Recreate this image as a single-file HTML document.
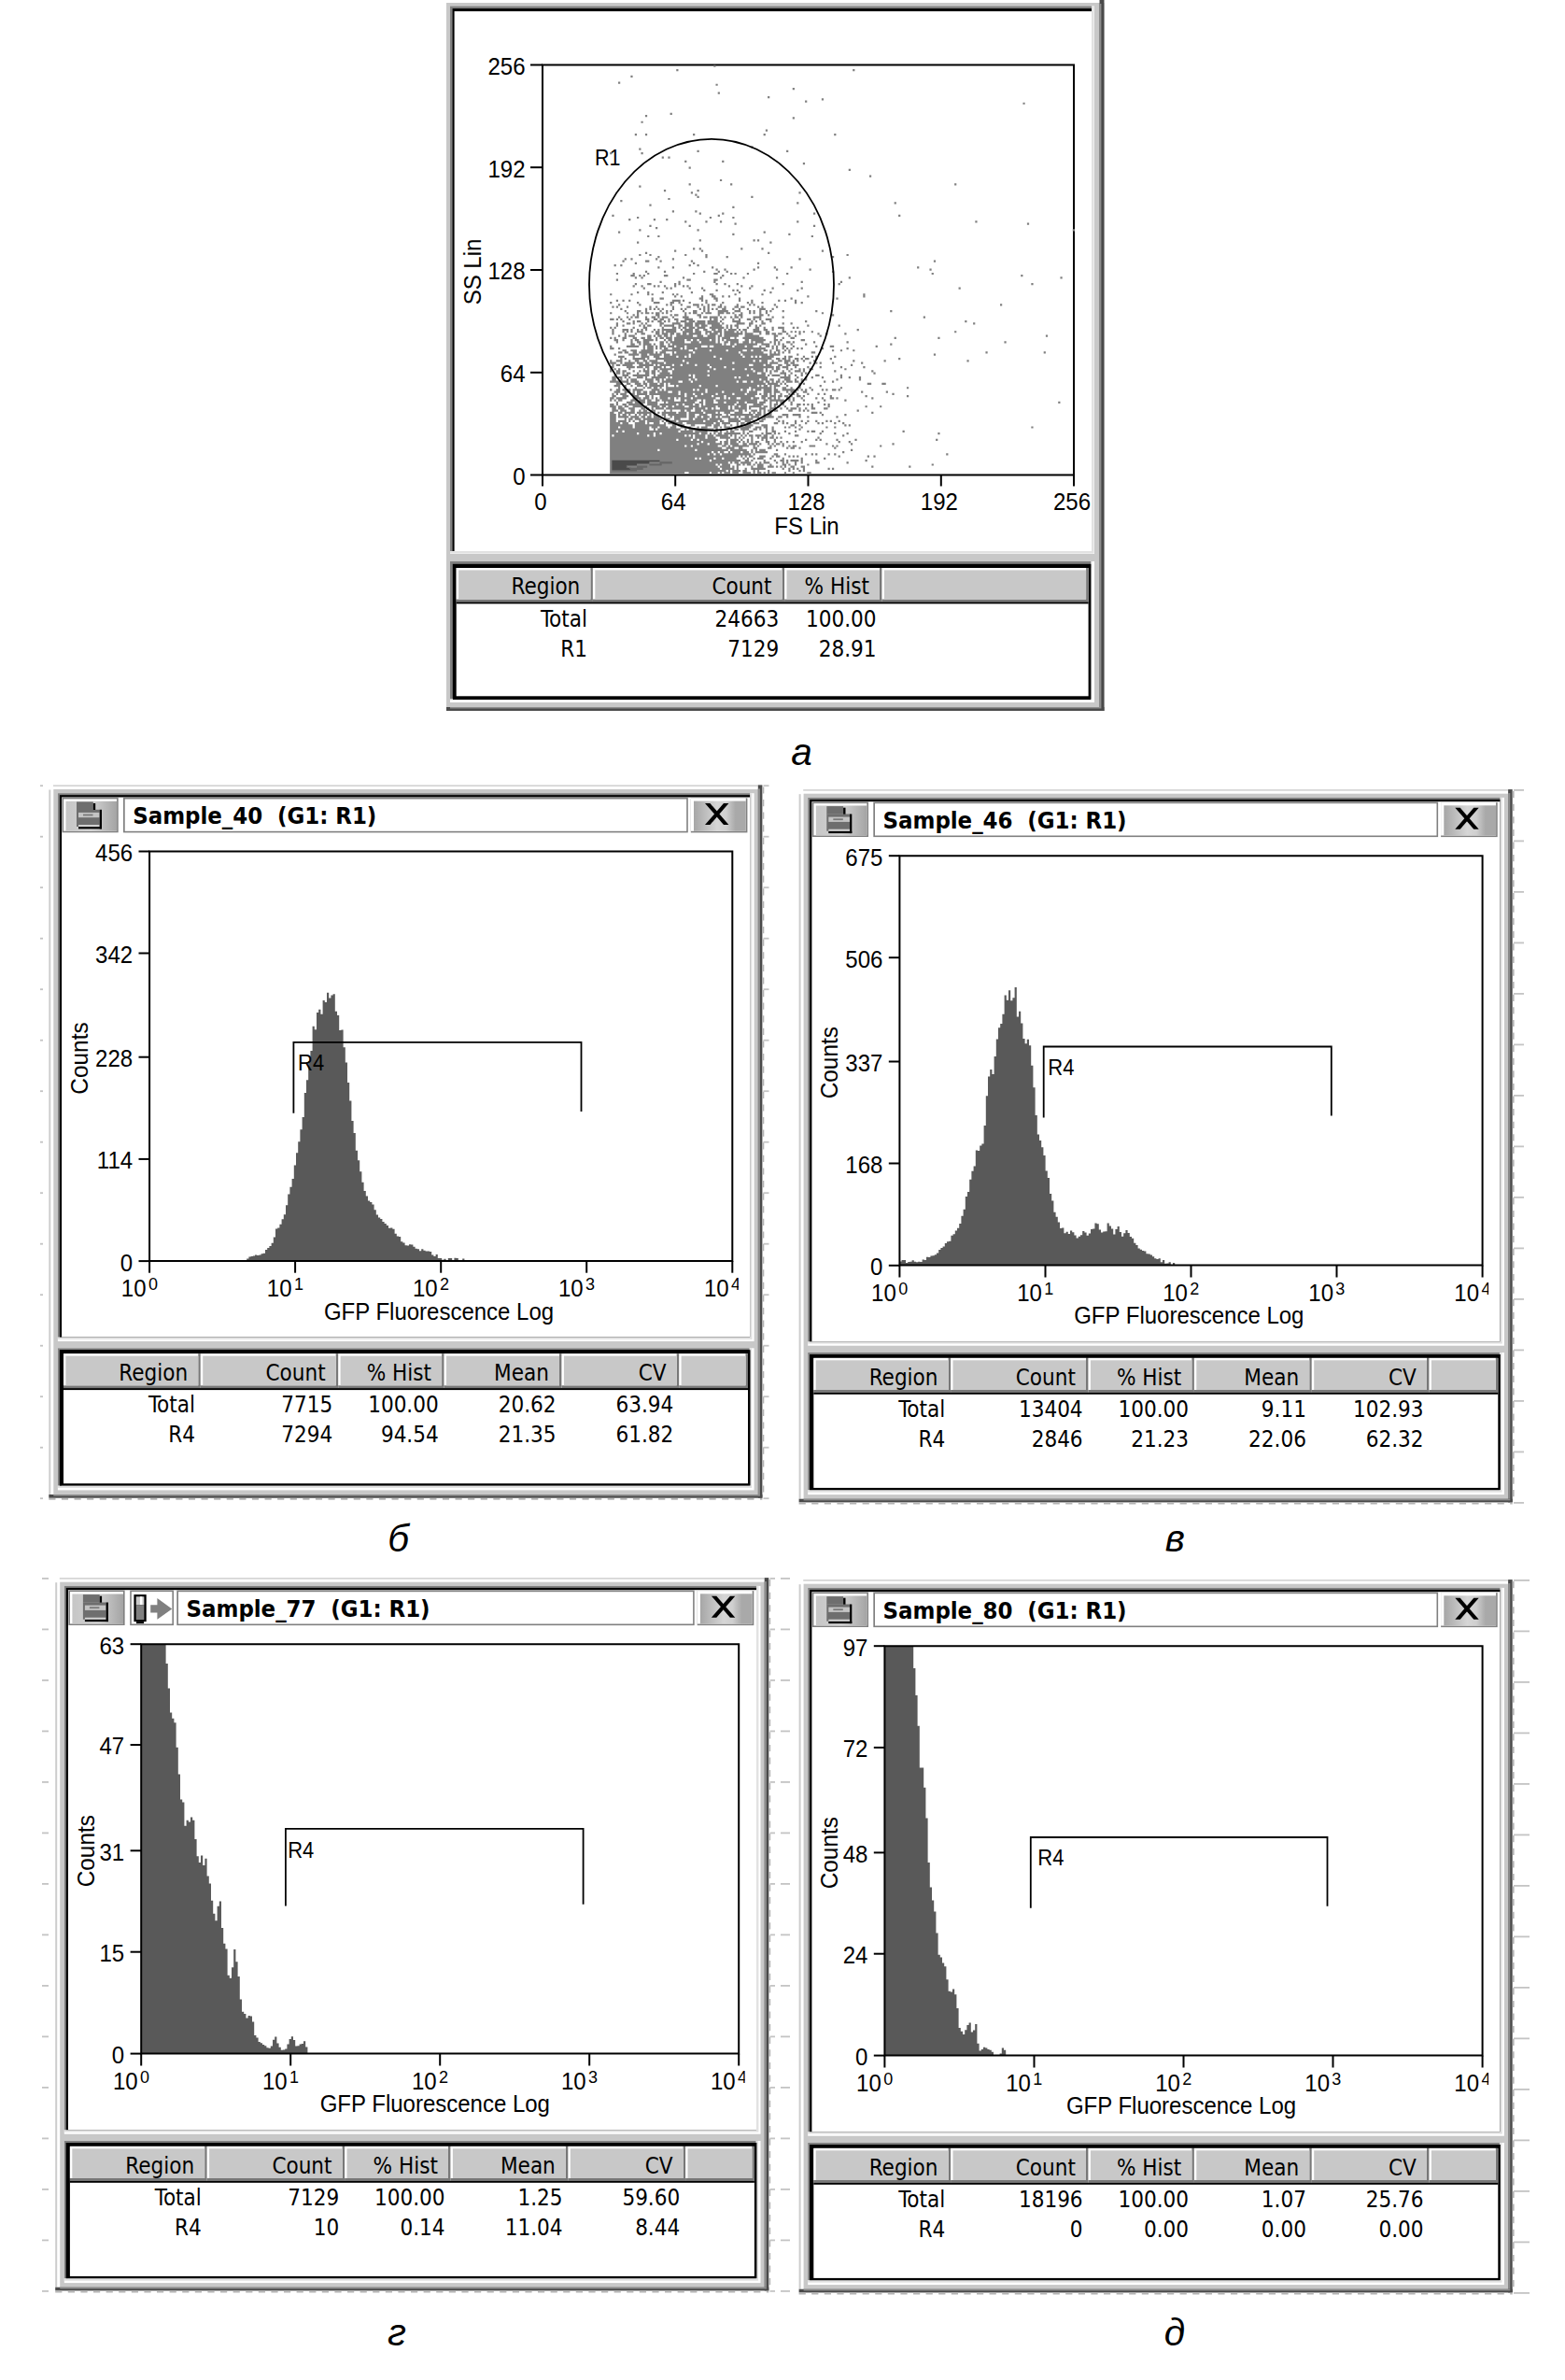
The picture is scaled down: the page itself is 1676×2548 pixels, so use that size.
<!DOCTYPE html>
<html lang="en"><head><meta charset="utf-8"><title>Flow cytometry</title>
<style>
html,body{margin:0;padding:0;background:#fff}
svg{display:block}
.a{font-family:"Liberation Sans",sans-serif;fill:#000}
.t{font-family:"DejaVu Sans Condensed","Liberation Sans",sans-serif;fill:#000}
.tb{font-family:"DejaVu Sans Condensed","Liberation Sans",sans-serif;font-weight:bold;fill:#000}
.ci{font-family:"Liberation Sans",sans-serif;font-style:italic;fill:#000}
</style></head><body>
<svg width="1676" height="2548" viewBox="0 0 1676 2548">
<rect width="1676" height="2548" fill="#fff"/>
<defs>
<linearGradient id="gb" x1="0" x2="1" y1="0" y2="0"><stop offset="0" stop-color="#a6a6a6"/><stop offset=".45" stop-color="#d6d6d6"/><stop offset=".62" stop-color="#cfcfcf"/><stop offset=".8" stop-color="#a9a9a9"/><stop offset="1" stop-color="#a9a9a9"/></linearGradient>
<linearGradient id="gi" x1="0" x2="1" y1="0" y2="0"><stop offset="0" stop-color="#c6c6c6"/><stop offset=".5" stop-color="#d2d2d2"/><stop offset="1" stop-color="#a4a4a4"/></linearGradient>
</defs>
<rect x="478.0" y="3.0" width="704.5" height="758.0" fill="#c8c8c8"/>
<rect x="1177.5" y="0.0" width="5.0" height="761.0" fill="#4a4a4a"/>
<rect x="478.0" y="757.0" width="704.5" height="4.0" fill="#4a4a4a"/>
<rect x="1177.5" y="4.0" width="1.9" height="753.0" fill="#8c8c8c"/>
<rect x="482.0" y="757.0" width="697.4" height="1.5" fill="#8c8c8c"/>
<rect x="482.0" y="6.5" width="690.0" height="586.5" fill="#fff"/>
<rect x="482.0" y="6.5" width="689.6" height="586.1" fill="#e2e2e2"/>
<rect x="482.0" y="6.5" width="687.0" height="583.5" fill="#808080"/>
<rect x="484.6" y="9.1" width="684.4" height="580.9" fill="#000"/>
<rect x="486.6" y="12.1" width="682.4" height="577.9" fill="#fff"/>
<rect x="482.0" y="601.0" width="690.0" height="151.0" fill="#fff"/>
<rect x="482.0" y="601.0" width="687.4" height="148.4" fill="#e2e2e2"/>
<rect x="482.0" y="601.0" width="686.2" height="147.2" fill="#808080"/>
<rect x="484.8" y="603.8" width="683.4" height="144.4" fill="#000"/>
<rect x="488.5" y="607.8" width="679.7" height="140.4" fill="#fff"/>
<rect x="485.0" y="604.0" width="683.2" height="145.0" fill="#000"/>
<rect x="488.7" y="608.0" width="676.9" height="137.3" fill="#fff"/>
<rect x="488.7" y="608.0" width="146.2" height="36.4" fill="#787878"/>
<rect x="488.7" y="608.0" width="143.7" height="33.6" fill="#fff"/>
<rect x="491.1" y="610.4" width="141.3" height="31.2" fill="#c8c8c8"/>
<text x="621.3" y="636.2" font-size="24" text-anchor="end" class="t">Region</text>
<rect x="634.9" y="608.0" width="205.2" height="36.4" fill="#787878"/>
<rect x="634.9" y="608.0" width="202.7" height="33.6" fill="#fff"/>
<rect x="637.3" y="610.4" width="200.3" height="31.2" fill="#c8c8c8"/>
<text x="826.5" y="636.2" font-size="24" text-anchor="end" class="t">Count</text>
<rect x="840.1" y="608.0" width="104.4" height="36.4" fill="#787878"/>
<rect x="840.1" y="608.0" width="101.9" height="33.6" fill="#fff"/>
<rect x="842.5" y="610.4" width="99.5" height="31.2" fill="#c8c8c8"/>
<text x="930.9" y="636.2" font-size="24" text-anchor="end" class="t">% Hist</text>
<rect x="944.5" y="608.0" width="221.1" height="36.4" fill="#787878"/>
<rect x="944.5" y="608.0" width="218.6" height="33.6" fill="#fff"/>
<rect x="946.9" y="610.4" width="216.2" height="31.2" fill="#c8c8c8"/>
<rect x="488.7" y="644.4" width="676.9" height="2.0" fill="#000"/>
<text x="629.0" y="671.0" font-size="24" text-anchor="end" class="t">Total</text>
<text x="834.2" y="671.0" font-size="24" text-anchor="end" class="t">24663</text>
<text x="938.6" y="671.0" font-size="24" text-anchor="end" class="t">100.00</text>
<text x="629.0" y="703.0" font-size="24" text-anchor="end" class="t">R1</text>
<text x="834.2" y="703.0" font-size="24" text-anchor="end" class="t">7129</text>
<text x="938.6" y="703.0" font-size="24" text-anchor="end" class="t">28.91</text>
<path d="M581 508.5V69.5H1150V508.5Z" fill="none" stroke="#000" stroke-width="2"/>
<line x1="568.0" y1="508.5" x2="581.0" y2="508.5" stroke="#000" stroke-width="2"/>
<text transform="translate(562.5,518.9) scale(1,1.07)" font-size="24" text-anchor="end" class="a">0</text>
<line x1="581.0" y1="508.5" x2="581.0" y2="520.5" stroke="#000" stroke-width="2"/>
<text transform="translate(579.0,545.6) scale(1,1.07)" font-size="24" text-anchor="middle" class="a">0</text>
<line x1="568.0" y1="398.8" x2="581.0" y2="398.8" stroke="#000" stroke-width="2"/>
<text transform="translate(562.5,409.1) scale(1,1.07)" font-size="24" text-anchor="end" class="a">64</text>
<line x1="723.2" y1="508.5" x2="723.2" y2="520.5" stroke="#000" stroke-width="2"/>
<text transform="translate(721.2,545.6) scale(1,1.07)" font-size="24" text-anchor="middle" class="a">64</text>
<line x1="568.0" y1="289.0" x2="581.0" y2="289.0" stroke="#000" stroke-width="2"/>
<text transform="translate(562.5,299.4) scale(1,1.07)" font-size="24" text-anchor="end" class="a">128</text>
<line x1="865.5" y1="508.5" x2="865.5" y2="520.5" stroke="#000" stroke-width="2"/>
<text transform="translate(863.5,545.6) scale(1,1.07)" font-size="24" text-anchor="middle" class="a">128</text>
<line x1="568.0" y1="179.2" x2="581.0" y2="179.2" stroke="#000" stroke-width="2"/>
<text transform="translate(562.5,189.7) scale(1,1.07)" font-size="24" text-anchor="end" class="a">192</text>
<line x1="1007.8" y1="508.5" x2="1007.8" y2="520.5" stroke="#000" stroke-width="2"/>
<text transform="translate(1005.8,545.6) scale(1,1.07)" font-size="24" text-anchor="middle" class="a">192</text>
<line x1="568.0" y1="69.5" x2="581.0" y2="69.5" stroke="#000" stroke-width="2"/>
<text transform="translate(562.5,79.9) scale(1,1.07)" font-size="24" text-anchor="end" class="a">256</text>
<line x1="1150.0" y1="508.5" x2="1150.0" y2="520.5" stroke="#000" stroke-width="2"/>
<text transform="translate(1148.0,545.6) scale(1,1.07)" font-size="24" text-anchor="middle" class="a">256</text>
<text transform="translate(864.0,571.5) scale(1,1.07)" font-size="24" text-anchor="middle" class="a">FS Lin</text>
<text transform="translate(514.5,291) rotate(-90) scale(1,1.07)" font-size="24" text-anchor="middle" class="a">SS Lin</text>
<text transform="translate(637.0,176.8) scale(1,1.07)" font-size="21.5" text-anchor="start" class="a">R1</text>
<g transform="translate(582,507.5) scale(2.2227,-2.2227)"><path fill="#808080" d="M32 0h36v1h-36zM70 0h10v1h-10zM81 0h3v1h-3zM85 0h1v1h-1zM87 0h3v1h-3zM91 0h3v1h-3zM96 0h4v1h-4zM101 0h1v1h-1zM103 0h2v1h-2zM106 0h1v1h-1zM108 0h1v1h-1zM110 0h2v1h-2zM116 0h1v1h-1zM120 0h1v1h-1zM127 0h2v1h-2zM32 1h56v1h-56zM89 1h1v1h-1zM91 1h4v1h-4zM96 1h2v1h-2zM101 1h1v1h-1zM103 1h1v1h-1zM108 1h1v1h-1zM118 1h1v1h-1zM123 1h1v1h-1zM125 1h1v1h-1zM32 2h53v1h-53zM86 2h6v1h-6zM93 2h1v1h-1zM97 2h1v1h-1zM100 2h7v1h-7zM115 2h1v1h-1zM118 2h1v1h-1zM120 2h1v1h-1zM122 2h1v1h-1zM125 2h1v1h-1zM137 2h1v1h-1zM139 2h1v1h-1zM32 3h52v1h-52zM85 3h5v1h-5zM91 3h1v1h-1zM93 3h1v1h-1zM100 3h1v1h-1zM103 3h3v1h-3zM108 3h3v1h-3zM112 3h1v1h-1zM114 3h1v1h-1zM116 3h1v1h-1zM119 3h2v1h-2zM124 3h2v1h-2zM158 3h1v1h-1zM176 3h1v1h-1zM32 4h51v1h-51zM84 4h1v1h-1zM86 4h4v1h-4zM93 4h2v1h-2zM96 4h1v1h-1zM98 4h2v1h-2zM101 4h1v1h-1zM103 4h3v1h-3zM109 4h1v1h-1zM115 4h2v1h-2zM118 4h1v1h-1zM121 4h1v1h-1zM127 4h1v1h-1zM187 4h1v1h-1zM32 5h57v1h-57zM90 5h1v1h-1zM92 5h2v1h-2zM95 5h5v1h-5zM102 5h1v1h-1zM104 5h1v1h-1zM106 5h3v1h-3zM112 5h1v1h-1zM115 5h1v1h-1zM117 5h1v1h-1zM121 5h1v1h-1zM124 5h1v1h-1zM131 5h2v1h-2zM146 5h1v1h-1zM32 6h48v1h-48zM81 6h14v1h-14zM97 6h2v1h-2zM100 6h1v1h-1zM106 6h1v1h-1zM111 6h1v1h-1zM114 6h2v1h-2zM117 6h1v1h-1zM119 6h4v1h-4zM124 6h1v1h-1zM131 6h1v1h-1zM155 6h1v1h-1zM32 7h41v1h-41zM74 7h1v1h-1zM76 7h6v1h-6zM83 7h3v1h-3zM87 7h6v1h-6zM96 7h1v1h-1zM98 7h1v1h-1zM101 7h1v1h-1zM103 7h3v1h-3zM109 7h1v1h-1zM115 7h1v1h-1zM124 7h1v1h-1zM135 7h1v1h-1zM32 8h62v1h-62zM95 8h1v1h-1zM97 8h1v1h-1zM99 8h2v1h-2zM104 8h3v1h-3zM110 8h1v1h-1zM112 8h2v1h-2zM118 8h1v1h-1zM120 8h1v1h-1zM122 8h1v1h-1zM142 8h1v1h-1zM156 8h1v1h-1zM159 8h1v1h-1zM32 9h47v1h-47zM80 9h2v1h-2zM83 9h2v1h-2zM86 9h14v1h-14zM101 9h1v1h-1zM111 9h2v1h-2zM116 9h1v1h-1zM126 9h1v1h-1zM129 9h1v1h-1zM131 9h1v1h-1zM137 9h1v1h-1zM140 9h1v1h-1zM194 9h1v1h-1zM32 10h49v1h-49zM82 10h2v1h-2zM85 10h2v1h-2zM89 10h1v1h-1zM91 10h4v1h-4zM96 10h3v1h-3zM100 10h1v1h-1zM102 10h6v1h-6zM144 10h1v1h-1zM32 11h23v1h-23zM56 11h17v1h-17zM74 11h15v1h-15zM90 11h8v1h-8zM100 11h1v1h-1zM102 11h1v1h-1zM104 11h3v1h-3zM112 11h1v1h-1zM148 11h1v1h-1zM32 12h54v1h-54zM88 12h4v1h-4zM94 12h2v1h-2zM101 12h2v1h-2zM108 12h2v1h-2zM117 12h1v1h-1zM119 12h2v1h-2zM123 12h1v1h-1zM140 12h1v1h-1zM32 13h36v1h-36zM69 13h2v1h-2zM72 13h12v1h-12zM86 13h2v1h-2zM89 13h1v1h-1zM91 13h8v1h-8zM101 13h1v1h-1zM103 13h1v1h-1zM109 13h1v1h-1zM111 13h1v1h-1zM115 13h1v1h-1zM118 13h1v1h-1zM120 13h2v1h-2zM128 13h3v1h-3zM139 13h1v1h-1zM141 13h1v1h-1zM162 13h1v1h-1zM32 14h42v1h-42zM75 14h4v1h-4zM80 14h6v1h-6zM87 14h2v1h-2zM90 14h4v1h-4zM96 14h2v1h-2zM99 14h4v1h-4zM104 14h1v1h-1zM108 14h1v1h-1zM110 14h1v1h-1zM112 14h2v1h-2zM115 14h1v1h-1zM136 14h1v1h-1zM148 14h1v1h-1zM168 14h1v1h-1zM32 15h44v1h-44zM77 15h6v1h-6zM85 15h1v1h-1zM87 15h2v1h-2zM90 15h3v1h-3zM94 15h1v1h-1zM96 15h1v1h-1zM98 15h1v1h-1zM100 15h1v1h-1zM102 15h2v1h-2zM107 15h2v1h-2zM111 15h1v1h-1zM114 15h1v1h-1zM117 15h1v1h-1zM120 15h1v1h-1zM124 15h1v1h-1zM142 15h1v1h-1zM147 15h1v1h-1zM32 16h32v1h-32zM65 16h6v1h-6zM72 16h2v1h-2zM75 16h9v1h-9zM88 16h1v1h-1zM90 16h4v1h-4zM95 16h1v1h-1zM98 16h1v1h-1zM100 16h1v1h-1zM105 16h1v1h-1zM107 16h1v1h-1zM111 16h1v1h-1zM126 16h1v1h-1zM131 16h1v1h-1zM133 16h1v1h-1zM141 16h1v1h-1zM150 16h1v1h-1zM189 16h1v1h-1zM32 17h40v1h-40zM73 17h5v1h-5zM79 17h4v1h-4zM85 17h5v1h-5zM92 17h1v1h-1zM94 17h1v1h-1zM96 17h1v1h-1zM100 17h1v1h-1zM103 17h1v1h-1zM105 17h3v1h-3zM109 17h2v1h-2zM112 17h1v1h-1zM114 17h1v1h-1zM132 17h1v1h-1zM32 18h1v1h-1zM34 18h16v1h-16zM51 18h2v1h-2zM54 18h14v1h-14zM69 18h1v1h-1zM71 18h1v1h-1zM73 18h5v1h-5zM79 18h3v1h-3zM83 18h6v1h-6zM90 18h1v1h-1zM92 18h1v1h-1zM95 18h1v1h-1zM97 18h1v1h-1zM99 18h2v1h-2zM102 18h3v1h-3zM106 18h2v1h-2zM110 18h1v1h-1zM121 18h2v1h-2zM144 18h1v1h-1zM32 19h13v1h-13zM46 19h7v1h-7zM54 19h2v1h-2zM57 19h18v1h-18zM76 19h3v1h-3zM80 19h1v1h-1zM82 19h1v1h-1zM84 19h2v1h-2zM87 19h8v1h-8zM96 19h1v1h-1zM98 19h1v1h-1zM105 19h1v1h-1zM107 19h3v1h-3zM111 19h1v1h-1zM113 19h1v1h-1zM118 19h1v1h-1zM133 19h1v1h-1zM140 19h1v1h-1zM146 19h1v1h-1zM190 19h1v1h-1zM32 20h3v1h-3zM36 20h2v1h-2zM39 20h26v1h-26zM66 20h6v1h-6zM73 20h6v1h-6zM82 20h2v1h-2zM85 20h1v1h-1zM88 20h1v1h-1zM90 20h2v1h-2zM96 20h1v1h-1zM99 20h2v1h-2zM107 20h1v1h-1zM110 20h2v1h-2zM116 20h1v1h-1zM121 20h1v1h-1zM127 20h1v1h-1zM129 20h2v1h-2zM134 20h1v1h-1zM173 20h1v1h-1zM32 21h19v1h-19zM53 21h1v1h-1zM55 21h11v1h-11zM68 21h1v1h-1zM70 21h12v1h-12zM83 21h1v1h-1zM90 21h1v1h-1zM92 21h2v1h-2zM95 21h4v1h-4zM101 21h2v1h-2zM104 21h1v1h-1zM107 21h1v1h-1zM110 21h1v1h-1zM123 21h1v1h-1zM32 22h4v1h-4zM37 22h6v1h-6zM44 22h7v1h-7zM52 22h3v1h-3zM56 22h4v1h-4zM61 22h3v1h-3zM66 22h5v1h-5zM74 22h1v1h-1zM76 22h3v1h-3zM82 22h2v1h-2zM85 22h1v1h-1zM87 22h3v1h-3zM92 22h1v1h-1zM94 22h6v1h-6zM102 22h3v1h-3zM106 22h2v1h-2zM110 22h1v1h-1zM116 22h1v1h-1zM118 22h1v1h-1zM121 22h1v1h-1zM124 22h1v1h-1zM136 22h1v1h-1zM140 22h1v1h-1zM235 22h1v1h-1zM32 23h11v1h-11zM44 23h15v1h-15zM62 23h2v1h-2zM65 23h3v1h-3zM71 23h2v1h-2zM78 23h3v1h-3zM82 23h3v1h-3zM87 23h1v1h-1zM90 23h1v1h-1zM93 23h1v1h-1zM95 23h1v1h-1zM97 23h4v1h-4zM105 23h3v1h-3zM119 23h2v1h-2zM123 23h1v1h-1zM145 23h1v1h-1zM147 23h1v1h-1zM32 24h5v1h-5zM38 24h3v1h-3zM44 24h5v1h-5zM50 24h1v1h-1zM53 24h3v1h-3zM58 24h1v1h-1zM60 24h7v1h-7zM69 24h13v1h-13zM83 24h2v1h-2zM86 24h4v1h-4zM93 24h1v1h-1zM95 24h2v1h-2zM98 24h2v1h-2zM101 24h3v1h-3zM111 24h2v1h-2zM115 24h1v1h-1zM117 24h1v1h-1zM121 24h1v1h-1zM126 24h1v1h-1zM132 24h1v1h-1zM134 24h1v1h-1zM140 24h1v1h-1zM144 24h1v1h-1zM32 25h3v1h-3zM36 25h4v1h-4zM41 25h1v1h-1zM43 25h1v1h-1zM46 25h3v1h-3zM50 25h6v1h-6zM57 25h1v1h-1zM59 25h1v1h-1zM61 25h3v1h-3zM65 25h12v1h-12zM78 25h6v1h-6zM85 25h2v1h-2zM89 25h6v1h-6zM97 25h3v1h-3zM101 25h1v1h-1zM104 25h2v1h-2zM113 25h1v1h-1zM115 25h1v1h-1zM121 25h1v1h-1zM124 25h1v1h-1zM127 25h1v1h-1zM131 25h1v1h-1zM136 25h1v1h-1zM138 25h1v1h-1zM142 25h1v1h-1zM32 26h3v1h-3zM39 26h1v1h-1zM41 26h2v1h-2zM44 26h3v1h-3zM48 26h9v1h-9zM58 26h3v1h-3zM63 26h3v1h-3zM70 26h2v1h-2zM73 26h6v1h-6zM80 26h6v1h-6zM89 26h5v1h-5zM95 26h6v1h-6zM103 26h1v1h-1zM105 26h2v1h-2zM112 26h1v1h-1zM32 27h3v1h-3zM36 27h5v1h-5zM42 27h4v1h-4zM47 27h2v1h-2zM50 27h2v1h-2zM53 27h3v1h-3zM58 27h1v1h-1zM61 27h1v1h-1zM63 27h6v1h-6zM70 27h3v1h-3zM74 27h2v1h-2zM77 27h3v1h-3zM81 27h2v1h-2zM84 27h1v1h-1zM86 27h4v1h-4zM92 27h1v1h-1zM94 27h1v1h-1zM97 27h2v1h-2zM100 27h4v1h-4zM106 27h5v1h-5zM113 27h2v1h-2zM117 27h1v1h-1zM123 27h1v1h-1zM127 27h1v1h-1zM141 27h1v1h-1zM32 28h3v1h-3zM36 28h1v1h-1zM38 28h2v1h-2zM41 28h1v1h-1zM44 28h1v1h-1zM46 28h1v1h-1zM48 28h2v1h-2zM51 28h1v1h-1zM53 28h2v1h-2zM57 28h2v1h-2zM60 28h9v1h-9zM70 28h3v1h-3zM75 28h4v1h-4zM81 28h5v1h-5zM88 28h1v1h-1zM90 28h11v1h-11zM102 28h3v1h-3zM106 28h1v1h-1zM108 28h2v1h-2zM115 28h3v1h-3zM120 28h4v1h-4zM134 28h1v1h-1zM145 28h1v1h-1zM32 29h2v1h-2zM36 29h2v1h-2zM39 29h5v1h-5zM45 29h7v1h-7zM53 29h1v1h-1zM55 29h1v1h-1zM57 29h7v1h-7zM65 29h4v1h-4zM70 29h7v1h-7zM78 29h5v1h-5zM84 29h1v1h-1zM87 29h3v1h-3zM92 29h4v1h-4zM99 29h1v1h-1zM101 29h1v1h-1zM103 29h2v1h-2zM106 29h1v1h-1zM109 29h1v1h-1zM129 29h3v1h-3zM133 29h1v1h-1zM158 29h1v1h-1zM33 30h3v1h-3zM37 30h3v1h-3zM42 30h2v1h-2zM46 30h1v1h-1zM48 30h2v1h-2zM52 30h2v1h-2zM58 30h1v1h-1zM61 30h1v1h-1zM66 30h2v1h-2zM69 30h2v1h-2zM73 30h3v1h-3zM77 30h15v1h-15zM94 30h2v1h-2zM97 30h1v1h-1zM100 30h3v1h-3zM104 30h1v1h-1zM106 30h1v1h-1zM108 30h2v1h-2zM111 30h2v1h-2zM118 30h2v1h-2zM123 30h1v1h-1zM125 30h1v1h-1zM127 30h1v1h-1zM151 30h1v1h-1zM33 31h2v1h-2zM36 31h3v1h-3zM41 31h3v1h-3zM47 31h2v1h-2zM50 31h1v1h-1zM52 31h1v1h-1zM54 31h4v1h-4zM59 31h13v1h-13zM73 31h5v1h-5zM79 31h2v1h-2zM82 31h1v1h-1zM85 31h4v1h-4zM90 31h1v1h-1zM92 31h6v1h-6zM99 31h1v1h-1zM104 31h3v1h-3zM109 31h3v1h-3zM114 31h1v1h-1zM117 31h1v1h-1zM119 31h3v1h-3zM123 31h1v1h-1zM126 31h1v1h-1zM129 31h2v1h-2zM135 31h2v1h-2zM32 32h3v1h-3zM36 32h2v1h-2zM39 32h2v1h-2zM43 32h5v1h-5zM49 32h1v1h-1zM52 32h4v1h-4zM57 32h2v1h-2zM60 32h2v1h-2zM63 32h5v1h-5zM70 32h5v1h-5zM76 32h7v1h-7zM84 32h5v1h-5zM90 32h1v1h-1zM92 32h2v1h-2zM95 32h3v1h-3zM99 32h6v1h-6zM106 32h2v1h-2zM109 32h1v1h-1zM111 32h1v1h-1zM113 32h1v1h-1zM116 32h1v1h-1zM122 32h1v1h-1zM129 32h1v1h-1zM137 32h1v1h-1zM155 32h1v1h-1zM162 32h1v1h-1zM32 33h2v1h-2zM35 33h1v1h-1zM38 33h2v1h-2zM41 33h7v1h-7zM50 33h5v1h-5zM56 33h8v1h-8zM65 33h2v1h-2zM68 33h4v1h-4zM73 33h2v1h-2zM76 33h1v1h-1zM78 33h14v1h-14zM93 33h5v1h-5zM101 33h5v1h-5zM109 33h1v1h-1zM111 33h2v1h-2zM115 33h1v1h-1zM119 33h1v1h-1zM122 33h2v1h-2zM125 33h1v1h-1zM127 33h1v1h-1zM129 33h1v1h-1zM135 33h1v1h-1zM137 33h1v1h-1zM35 34h1v1h-1zM40 34h3v1h-3zM44 34h5v1h-5zM50 34h5v1h-5zM58 34h1v1h-1zM60 34h13v1h-13zM75 34h2v1h-2zM78 34h4v1h-4zM84 34h3v1h-3zM88 34h5v1h-5zM94 34h3v1h-3zM98 34h5v1h-5zM104 34h3v1h-3zM109 34h1v1h-1zM112 34h1v1h-1zM114 34h2v1h-2zM119 34h1v1h-1zM132 34h1v1h-1zM248 34h1v1h-1zM32 35h1v1h-1zM34 35h1v1h-1zM36 35h2v1h-2zM42 35h3v1h-3zM46 35h3v1h-3zM50 35h2v1h-2zM54 35h2v1h-2zM57 35h6v1h-6zM66 35h2v1h-2zM69 35h5v1h-5zM76 35h1v1h-1zM78 35h4v1h-4zM83 35h20v1h-20zM106 35h2v1h-2zM109 35h7v1h-7zM118 35h1v1h-1zM120 35h1v1h-1zM125 35h1v1h-1zM135 35h1v1h-1zM145 35h1v1h-1zM32 36h2v1h-2zM35 36h5v1h-5zM43 36h4v1h-4zM48 36h3v1h-3zM52 36h1v1h-1zM54 36h1v1h-1zM56 36h4v1h-4zM61 36h2v1h-2zM64 36h1v1h-1zM66 36h5v1h-5zM72 36h11v1h-11zM85 36h2v1h-2zM88 36h1v1h-1zM90 36h3v1h-3zM95 36h5v1h-5zM101 36h3v1h-3zM105 36h2v1h-2zM108 36h2v1h-2zM111 36h1v1h-1zM113 36h1v1h-1zM117 36h2v1h-2zM120 36h1v1h-1zM124 36h1v1h-1zM131 36h1v1h-1zM134 36h1v1h-1zM138 36h2v1h-2zM141 36h1v1h-1zM158 36h1v1h-1zM33 37h2v1h-2zM38 37h3v1h-3zM43 37h3v1h-3zM49 37h2v1h-2zM52 37h1v1h-1zM56 37h12v1h-12zM69 37h4v1h-4zM74 37h7v1h-7zM82 37h5v1h-5zM88 37h14v1h-14zM105 37h3v1h-3zM109 37h3v1h-3zM113 37h2v1h-2zM116 37h2v1h-2zM119 37h1v1h-1zM122 37h2v1h-2zM125 37h1v1h-1zM138 37h1v1h-1zM155 37h1v1h-1zM175 37h1v1h-1zM33 38h1v1h-1zM35 38h1v1h-1zM37 38h3v1h-3zM42 38h2v1h-2zM45 38h5v1h-5zM51 38h14v1h-14zM66 38h2v1h-2zM69 38h3v1h-3zM73 38h3v1h-3zM77 38h6v1h-6zM84 38h7v1h-7zM92 38h5v1h-5zM98 38h5v1h-5zM104 38h1v1h-1zM106 38h2v1h-2zM109 38h1v1h-1zM111 38h1v1h-1zM114 38h1v1h-1zM118 38h1v1h-1zM120 38h1v1h-1zM122 38h1v1h-1zM127 38h1v1h-1zM132 38h1v1h-1zM135 38h1v1h-1zM168 38h1v1h-1zM34 39h3v1h-3zM39 39h3v1h-3zM43 39h1v1h-1zM45 39h2v1h-2zM48 39h2v1h-2zM51 39h3v1h-3zM55 39h5v1h-5zM62 39h3v1h-3zM66 39h12v1h-12zM79 39h7v1h-7zM87 39h11v1h-11zM99 39h4v1h-4zM106 39h4v1h-4zM111 39h3v1h-3zM117 39h1v1h-1zM119 39h3v1h-3zM125 39h2v1h-2zM153 39h1v1h-1zM165 39h1v1h-1zM32 40h1v1h-1zM35 40h2v1h-2zM38 40h4v1h-4zM43 40h5v1h-5zM52 40h4v1h-4zM57 40h1v1h-1zM59 40h13v1h-13zM73 40h1v1h-1zM75 40h3v1h-3zM79 40h16v1h-16zM96 40h2v1h-2zM100 40h1v1h-1zM102 40h3v1h-3zM106 40h4v1h-4zM111 40h2v1h-2zM115 40h6v1h-6zM122 40h1v1h-1zM124 40h1v1h-1zM126 40h1v1h-1zM129 40h1v1h-1zM134 40h1v1h-1zM136 40h1v1h-1zM139 40h2v1h-2zM142 40h1v1h-1zM36 41h1v1h-1zM39 41h1v1h-1zM44 41h1v1h-1zM48 41h1v1h-1zM50 41h2v1h-2zM53 41h2v1h-2zM56 41h1v1h-1zM59 41h40v1h-40zM100 41h10v1h-10zM111 41h1v1h-1zM115 41h2v1h-2zM119 41h1v1h-1zM123 41h1v1h-1zM128 41h1v1h-1zM143 41h1v1h-1zM175 41h1v1h-1zM34 42h3v1h-3zM39 42h1v1h-1zM42 42h1v1h-1zM45 42h3v1h-3zM49 42h1v1h-1zM51 42h7v1h-7zM59 42h1v1h-1zM63 42h1v1h-1zM65 42h10v1h-10zM76 42h7v1h-7zM84 42h19v1h-19zM104 42h1v1h-1zM106 42h2v1h-2zM109 42h1v1h-1zM111 42h3v1h-3zM117 42h1v1h-1zM123 42h1v1h-1zM133 42h1v1h-1zM35 43h3v1h-3zM40 43h2v1h-2zM44 43h3v1h-3zM48 43h2v1h-2zM51 43h4v1h-4zM56 43h2v1h-2zM59 43h1v1h-1zM61 43h46v1h-46zM108 43h5v1h-5zM114 43h1v1h-1zM116 43h1v1h-1zM123 43h1v1h-1zM125 43h1v1h-1zM156 43h2v1h-2zM163 43h2v1h-2zM32 44h9v1h-9zM42 44h4v1h-4zM48 44h1v1h-1zM50 44h3v1h-3zM55 44h1v1h-1zM57 44h8v1h-8zM67 44h4v1h-4zM72 44h21v1h-21zM94 44h2v1h-2zM98 44h2v1h-2zM101 44h5v1h-5zM107 44h2v1h-2zM110 44h1v1h-1zM112 44h2v1h-2zM115 44h1v1h-1zM117 44h3v1h-3zM121 44h2v1h-2zM124 44h1v1h-1zM135 44h1v1h-1zM139 44h1v1h-1zM33 45h2v1h-2zM37 45h1v1h-1zM40 45h1v1h-1zM42 45h3v1h-3zM49 45h4v1h-4zM54 45h2v1h-2zM57 45h1v1h-1zM59 45h11v1h-11zM71 45h2v1h-2zM74 45h30v1h-30zM105 45h3v1h-3zM109 45h2v1h-2zM113 45h1v1h-1zM116 45h3v1h-3zM121 45h1v1h-1zM124 45h1v1h-1zM126 45h1v1h-1zM141 45h1v1h-1zM152 45h1v1h-1zM33 46h2v1h-2zM36 46h2v1h-2zM39 46h1v1h-1zM41 46h1v1h-1zM45 46h3v1h-3zM49 46h1v1h-1zM52 46h7v1h-7zM60 46h1v1h-1zM62 46h10v1h-10zM73 46h19v1h-19zM93 46h1v1h-1zM95 46h13v1h-13zM114 46h5v1h-5zM122 46h1v1h-1zM126 46h1v1h-1zM129 46h1v1h-1zM134 46h1v1h-1zM143 46h1v1h-1zM147 46h1v1h-1zM152 46h1v1h-1zM34 47h1v1h-1zM38 47h3v1h-3zM43 47h8v1h-8zM53 47h1v1h-1zM55 47h15v1h-15zM71 47h1v1h-1zM73 47h6v1h-6zM80 47h18v1h-18zM99 47h8v1h-8zM108 47h1v1h-1zM110 47h4v1h-4zM116 47h1v1h-1zM118 47h1v1h-1zM121 47h1v1h-1zM124 47h1v1h-1zM131 47h2v1h-2zM143 47h1v1h-1zM35 48h2v1h-2zM38 48h1v1h-1zM40 48h2v1h-2zM45 48h1v1h-1zM49 48h2v1h-2zM52 48h2v1h-2zM56 48h5v1h-5zM62 48h41v1h-41zM105 48h2v1h-2zM109 48h1v1h-1zM114 48h3v1h-3zM119 48h1v1h-1zM124 48h1v1h-1zM126 48h1v1h-1zM159 48h1v1h-1zM32 49h1v1h-1zM35 49h2v1h-2zM38 49h2v1h-2zM43 49h1v1h-1zM46 49h1v1h-1zM48 49h3v1h-3zM52 49h2v1h-2zM55 49h1v1h-1zM57 49h3v1h-3zM62 49h17v1h-17zM80 49h21v1h-21zM102 49h4v1h-4zM107 49h1v1h-1zM109 49h1v1h-1zM111 49h2v1h-2zM115 49h1v1h-1zM118 49h1v1h-1zM121 49h3v1h-3zM125 49h1v1h-1zM140 49h1v1h-1zM158 49h1v1h-1zM32 50h1v1h-1zM34 50h1v1h-1zM36 50h1v1h-1zM41 50h1v1h-1zM48 50h1v1h-1zM50 50h1v1h-1zM53 50h2v1h-2zM56 50h6v1h-6zM63 50h19v1h-19zM83 50h8v1h-8zM92 50h5v1h-5zM98 50h2v1h-2zM101 50h5v1h-5zM107 50h1v1h-1zM110 50h1v1h-1zM112 50h2v1h-2zM117 50h1v1h-1zM119 50h1v1h-1zM123 50h1v1h-1zM125 50h1v1h-1zM128 50h2v1h-2zM145 50h1v1h-1zM32 51h2v1h-2zM40 51h4v1h-4zM45 51h3v1h-3zM49 51h2v1h-2zM53 51h4v1h-4zM58 51h1v1h-1zM61 51h19v1h-19zM81 51h6v1h-6zM88 51h23v1h-23zM112 51h2v1h-2zM115 51h3v1h-3zM121 51h1v1h-1zM127 51h1v1h-1zM133 51h1v1h-1zM143 51h1v1h-1zM154 51h1v1h-1zM33 52h1v1h-1zM35 52h2v1h-2zM38 52h5v1h-5zM46 52h7v1h-7zM54 52h1v1h-1zM56 52h6v1h-6zM63 52h3v1h-3zM67 52h6v1h-6zM74 52h5v1h-5zM80 52h19v1h-19zM101 52h5v1h-5zM107 52h3v1h-3zM113 52h2v1h-2zM117 52h2v1h-2zM120 52h3v1h-3zM148 52h1v1h-1zM32 53h3v1h-3zM37 53h1v1h-1zM39 53h5v1h-5zM45 53h3v1h-3zM49 53h2v1h-2zM52 53h6v1h-6zM59 53h10v1h-10zM70 53h21v1h-21zM92 53h16v1h-16zM109 53h4v1h-4zM116 53h2v1h-2zM119 53h2v1h-2zM128 53h1v1h-1zM131 53h1v1h-1zM133 53h1v1h-1zM139 53h1v1h-1zM153 53h1v1h-1zM32 54h1v1h-1zM35 54h3v1h-3zM41 54h1v1h-1zM44 54h2v1h-2zM48 54h2v1h-2zM51 54h4v1h-4zM58 54h9v1h-9zM68 54h33v1h-33zM102 54h2v1h-2zM105 54h3v1h-3zM110 54h1v1h-1zM113 54h2v1h-2zM116 54h3v1h-3zM120 54h1v1h-1zM122 54h1v1h-1zM125 54h1v1h-1zM130 54h1v1h-1zM149 54h1v1h-1zM164 54h1v1h-1zM204 54h1v1h-1zM37 55h1v1h-1zM39 55h1v1h-1zM43 55h6v1h-6zM50 55h1v1h-1zM54 55h31v1h-31zM86 55h24v1h-24zM112 55h2v1h-2zM115 55h2v1h-2zM118 55h1v1h-1zM121 55h2v1h-2zM124 55h1v1h-1zM126 55h2v1h-2zM131 55h1v1h-1zM138 55h1v1h-1zM171 55h1v1h-1zM36 56h3v1h-3zM43 56h1v1h-1zM47 56h4v1h-4zM53 56h3v1h-3zM58 56h6v1h-6zM65 56h3v1h-3zM69 56h1v1h-1zM71 56h11v1h-11zM83 56h13v1h-13zM97 56h3v1h-3zM101 56h1v1h-1zM103 56h1v1h-1zM105 56h6v1h-6zM116 56h1v1h-1zM118 56h2v1h-2zM125 56h1v1h-1zM129 56h1v1h-1zM131 56h1v1h-1zM140 56h1v1h-1zM34 57h1v1h-1zM41 57h5v1h-5zM47 57h3v1h-3zM51 57h6v1h-6zM58 57h3v1h-3zM62 57h8v1h-8zM71 57h24v1h-24zM96 57h12v1h-12zM109 57h5v1h-5zM122 57h1v1h-1zM188 57h1v1h-1zM36 58h2v1h-2zM39 58h2v1h-2zM43 58h2v1h-2zM46 58h7v1h-7zM54 58h1v1h-1zM56 58h3v1h-3zM62 58h1v1h-1zM64 58h8v1h-8zM73 58h21v1h-21zM95 58h11v1h-11zM109 58h1v1h-1zM111 58h1v1h-1zM113 58h1v1h-1zM115 58h1v1h-1zM118 58h1v1h-1zM129 58h2v1h-2zM213 58h1v1h-1zM241 58h1v1h-1zM38 59h2v1h-2zM42 59h3v1h-3zM47 59h6v1h-6zM57 59h13v1h-13zM72 59h8v1h-8zM81 59h7v1h-7zM89 59h7v1h-7zM98 59h2v1h-2zM101 59h4v1h-4zM106 59h2v1h-2zM109 59h1v1h-1zM112 59h2v1h-2zM116 59h1v1h-1zM118 59h1v1h-1zM139 59h1v1h-1zM143 59h1v1h-1zM149 59h1v1h-1zM32 60h2v1h-2zM36 60h1v1h-1zM48 60h1v1h-1zM50 60h3v1h-3zM54 60h1v1h-1zM56 60h1v1h-1zM58 60h2v1h-2zM62 60h4v1h-4zM67 60h1v1h-1zM69 60h4v1h-4zM74 60h33v1h-33zM110 60h1v1h-1zM112 60h1v1h-1zM115 60h1v1h-1zM117 60h1v1h-1zM119 60h1v1h-1zM122 60h1v1h-1zM124 60h1v1h-1zM134 60h1v1h-1zM146 60h1v1h-1zM32 61h1v1h-1zM40 61h6v1h-6zM48 61h1v1h-1zM50 61h3v1h-3zM54 61h1v1h-1zM56 61h3v1h-3zM60 61h3v1h-3zM64 61h4v1h-4zM69 61h7v1h-7zM79 61h1v1h-1zM82 61h9v1h-9zM92 61h5v1h-5zM98 61h3v1h-3zM104 61h1v1h-1zM107 61h2v1h-2zM110 61h1v1h-1zM112 61h1v1h-1zM115 61h2v1h-2zM120 61h1v1h-1zM131 61h1v1h-1zM138 61h2v1h-2zM160 61h1v1h-1zM42 62h2v1h-2zM46 62h1v1h-1zM48 62h4v1h-4zM53 62h1v1h-1zM56 62h2v1h-2zM60 62h1v1h-1zM62 62h24v1h-24zM87 62h1v1h-1zM90 62h2v1h-2zM93 62h10v1h-10zM105 62h4v1h-4zM111 62h1v1h-1zM113 62h1v1h-1zM115 62h1v1h-1zM119 62h1v1h-1zM126 62h1v1h-1zM167 62h1v1h-1zM35 63h1v1h-1zM42 63h1v1h-1zM45 63h2v1h-2zM48 63h3v1h-3zM56 63h2v1h-2zM59 63h1v1h-1zM61 63h7v1h-7zM71 63h4v1h-4zM76 63h7v1h-7zM84 63h1v1h-1zM87 63h2v1h-2zM90 63h4v1h-4zM96 63h3v1h-3zM100 63h1v1h-1zM102 63h4v1h-4zM109 63h1v1h-1zM111 63h1v1h-1zM113 63h1v1h-1zM117 63h2v1h-2zM120 63h1v1h-1zM130 63h1v1h-1zM146 63h1v1h-1zM222 63h1v1h-1zM34 64h2v1h-2zM38 64h1v1h-1zM42 64h1v1h-1zM44 64h2v1h-2zM48 64h5v1h-5zM54 64h1v1h-1zM58 64h1v1h-1zM60 64h2v1h-2zM63 64h5v1h-5zM69 64h2v1h-2zM72 64h2v1h-2zM75 64h5v1h-5zM81 64h2v1h-2zM84 64h1v1h-1zM86 64h1v1h-1zM88 64h6v1h-6zM97 64h2v1h-2zM100 64h7v1h-7zM111 64h2v1h-2zM114 64h1v1h-1zM124 64h2v1h-2zM32 65h1v1h-1zM34 65h1v1h-1zM38 65h2v1h-2zM43 65h2v1h-2zM47 65h2v1h-2zM50 65h2v1h-2zM54 65h1v1h-1zM56 65h2v1h-2zM59 65h3v1h-3zM63 65h20v1h-20zM84 65h1v1h-1zM86 65h4v1h-4zM92 65h1v1h-1zM96 65h10v1h-10zM111 65h1v1h-1zM115 65h1v1h-1zM119 65h2v1h-2zM169 65h1v1h-1zM190 65h1v1h-1zM36 66h1v1h-1zM39 66h1v1h-1zM41 66h3v1h-3zM50 66h2v1h-2zM53 66h1v1h-1zM55 66h2v1h-2zM58 66h2v1h-2zM61 66h1v1h-1zM64 66h8v1h-8zM74 66h3v1h-3zM79 66h4v1h-4zM84 66h2v1h-2zM87 66h7v1h-7zM97 66h7v1h-7zM111 66h2v1h-2zM118 66h1v1h-1zM121 66h1v1h-1zM133 66h1v1h-1zM242 66h1v1h-1zM33 67h1v1h-1zM39 67h1v1h-1zM44 67h1v1h-1zM47 67h2v1h-2zM54 67h2v1h-2zM57 67h3v1h-3zM61 67h2v1h-2zM64 67h2v1h-2zM67 67h2v1h-2zM70 67h6v1h-6zM78 67h1v1h-1zM80 67h4v1h-4zM85 67h1v1h-1zM87 67h9v1h-9zM97 67h4v1h-4zM104 67h1v1h-1zM107 67h2v1h-2zM110 67h2v1h-2zM113 67h2v1h-2zM117 67h1v1h-1zM123 67h1v1h-1zM132 67h1v1h-1zM136 67h1v1h-1zM145 67h1v1h-1zM33 68h1v1h-1zM38 68h1v1h-1zM40 68h1v1h-1zM42 68h1v1h-1zM45 68h3v1h-3zM52 68h1v1h-1zM54 68h2v1h-2zM57 68h1v1h-1zM59 68h5v1h-5zM67 68h5v1h-5zM73 68h3v1h-3zM78 68h3v1h-3zM82 68h4v1h-4zM87 68h5v1h-5zM93 68h1v1h-1zM95 68h1v1h-1zM97 68h1v1h-1zM101 68h4v1h-4zM107 68h2v1h-2zM115 68h2v1h-2zM119 68h1v1h-1zM121 68h1v1h-1zM123 68h1v1h-1zM125 68h1v1h-1zM129 68h1v1h-1zM198 68h1v1h-1zM33 69h1v1h-1zM38 69h3v1h-3zM42 69h1v1h-1zM45 69h1v1h-1zM47 69h1v1h-1zM49 69h1v1h-1zM53 69h1v1h-1zM55 69h1v1h-1zM57 69h7v1h-7zM66 69h1v1h-1zM68 69h4v1h-4zM73 69h2v1h-2zM77 69h2v1h-2zM81 69h2v1h-2zM84 69h2v1h-2zM87 69h1v1h-1zM89 69h4v1h-4zM94 69h1v1h-1zM96 69h2v1h-2zM101 69h3v1h-3zM106 69h2v1h-2zM110 69h1v1h-1zM115 69h1v1h-1zM151 69h1v1h-1zM32 70h1v1h-1zM34 70h1v1h-1zM43 70h1v1h-1zM48 70h2v1h-2zM57 70h1v1h-1zM62 70h2v1h-2zM65 70h1v1h-1zM67 70h2v1h-2zM70 70h3v1h-3zM74 70h4v1h-4zM80 70h7v1h-7zM88 70h1v1h-1zM90 70h1v1h-1zM93 70h1v1h-1zM98 70h1v1h-1zM102 70h2v1h-2zM106 70h1v1h-1zM110 70h1v1h-1zM113 70h3v1h-3zM120 70h1v1h-1zM122 70h1v1h-1zM35 71h1v1h-1zM38 71h1v1h-1zM46 71h1v1h-1zM48 71h1v1h-1zM50 71h2v1h-2zM56 71h1v1h-1zM58 71h5v1h-5zM65 71h2v1h-2zM68 71h4v1h-4zM73 71h2v1h-2zM76 71h3v1h-3zM81 71h5v1h-5zM88 71h1v1h-1zM90 71h1v1h-1zM92 71h2v1h-2zM99 71h1v1h-1zM102 71h1v1h-1zM104 71h1v1h-1zM127 71h1v1h-1zM142 71h1v1h-1zM35 72h1v1h-1zM40 72h2v1h-2zM43 72h1v1h-1zM47 72h1v1h-1zM49 72h1v1h-1zM56 72h2v1h-2zM62 72h4v1h-4zM68 72h4v1h-4zM73 72h5v1h-5zM79 72h6v1h-6zM86 72h1v1h-1zM93 72h4v1h-4zM99 72h2v1h-2zM105 72h2v1h-2zM115 72h1v1h-1zM119 72h1v1h-1zM207 72h1v1h-1zM38 73h1v1h-1zM43 73h1v1h-1zM45 73h2v1h-2zM50 73h1v1h-1zM52 73h1v1h-1zM55 73h2v1h-2zM58 73h1v1h-1zM60 73h1v1h-1zM64 73h1v1h-1zM66 73h3v1h-3zM70 73h3v1h-3zM74 73h4v1h-4zM79 73h5v1h-5zM85 73h1v1h-1zM91 73h4v1h-4zM100 73h1v1h-1zM102 73h1v1h-1zM105 73h1v1h-1zM109 73h1v1h-1zM126 73h1v1h-1zM203 73h1v1h-1zM32 74h2v1h-2zM35 74h1v1h-1zM37 74h1v1h-1zM41 74h1v1h-1zM49 74h2v1h-2zM53 74h2v1h-2zM56 74h2v1h-2zM60 74h1v1h-1zM63 74h2v1h-2zM68 74h4v1h-4zM80 74h1v1h-1zM82 74h2v1h-2zM86 74h1v1h-1zM91 74h1v1h-1zM94 74h1v1h-1zM98 74h2v1h-2zM101 74h1v1h-1zM104 74h1v1h-1zM107 74h3v1h-3zM36 75h1v1h-1zM40 75h1v1h-1zM42 75h1v1h-1zM44 75h2v1h-2zM49 75h1v1h-1zM52 75h2v1h-2zM55 75h1v1h-1zM57 75h3v1h-3zM62 75h1v1h-1zM67 75h3v1h-3zM75 75h1v1h-1zM77 75h2v1h-2zM80 75h4v1h-4zM85 75h1v1h-1zM87 75h1v1h-1zM90 75h1v1h-1zM92 75h2v1h-2zM95 75h1v1h-1zM101 75h4v1h-4zM110 75h1v1h-1zM115 75h1v1h-1zM183 75h1v1h-1zM43 76h1v1h-1zM45 76h1v1h-1zM54 76h2v1h-2zM61 76h1v1h-1zM63 76h2v1h-2zM68 76h1v1h-1zM74 76h2v1h-2zM84 76h1v1h-1zM92 76h1v1h-1zM94 76h2v1h-2zM104 76h2v1h-2zM108 76h1v1h-1zM139 76h1v1h-1zM32 77h1v1h-1zM40 77h1v1h-1zM45 77h1v1h-1zM47 77h1v1h-1zM49 77h2v1h-2zM52 77h1v1h-1zM54 77h2v1h-2zM57 77h1v1h-1zM59 77h1v1h-1zM68 77h1v1h-1zM70 77h1v1h-1zM72 77h2v1h-2zM76 77h1v1h-1zM78 77h3v1h-3zM84 77h3v1h-3zM88 77h2v1h-2zM91 77h1v1h-1zM95 77h1v1h-1zM99 77h1v1h-1zM101 77h1v1h-1zM104 77h1v1h-1zM107 77h1v1h-1zM134 77h1v1h-1zM39 78h1v1h-1zM45 78h2v1h-2zM49 78h1v1h-1zM56 78h1v1h-1zM59 78h1v1h-1zM61 78h1v1h-1zM67 78h1v1h-1zM72 78h2v1h-2zM77 78h1v1h-1zM79 78h1v1h-1zM84 78h5v1h-5zM92 78h3v1h-3zM99 78h1v1h-1zM101 78h1v1h-1zM104 78h1v1h-1zM107 78h1v1h-1zM109 78h1v1h-1zM115 78h1v1h-1zM131 78h1v1h-1zM167 78h1v1h-1zM37 79h1v1h-1zM49 79h1v1h-1zM51 79h1v1h-1zM53 79h1v1h-1zM55 79h1v1h-1zM57 79h1v1h-1zM62 79h1v1h-1zM66 79h1v1h-1zM68 79h1v1h-1zM75 79h1v1h-1zM77 79h1v1h-1zM79 79h1v1h-1zM81 79h1v1h-1zM83 79h1v1h-1zM86 79h2v1h-2zM91 79h1v1h-1zM94 79h1v1h-1zM98 79h1v1h-1zM104 79h3v1h-3zM110 79h1v1h-1zM33 80h1v1h-1zM35 80h1v1h-1zM40 80h1v1h-1zM51 80h1v1h-1zM54 80h1v1h-1zM62 80h1v1h-1zM69 80h2v1h-2zM74 80h1v1h-1zM77 80h1v1h-1zM79 80h1v1h-1zM84 80h2v1h-2zM87 80h1v1h-1zM92 80h2v1h-2zM95 80h2v1h-2zM103 80h1v1h-1zM105 80h1v1h-1zM112 80h1v1h-1zM36 81h1v1h-1zM46 81h1v1h-1zM59 81h1v1h-1zM61 81h1v1h-1zM66 81h1v1h-1zM72 81h3v1h-3zM76 81h1v1h-1zM79 81h1v1h-1zM81 81h2v1h-2zM85 81h1v1h-1zM93 81h1v1h-1zM99 81h1v1h-1zM101 81h1v1h-1zM111 81h1v1h-1zM220 81h1v1h-1zM32 82h1v1h-1zM45 82h1v1h-1zM53 82h3v1h-3zM61 82h2v1h-2zM65 82h1v1h-1zM70 82h1v1h-1zM78 82h1v1h-1zM86 82h1v1h-1zM98 82h1v1h-1zM100 82h1v1h-1zM105 82h1v1h-1zM121 82h1v1h-1zM124 82h1v1h-1zM35 83h1v1h-1zM38 83h1v1h-1zM41 83h1v1h-1zM52 83h1v1h-1zM62 83h4v1h-4zM67 83h1v1h-1zM76 83h1v1h-1zM78 83h1v1h-1zM83 83h1v1h-1zM94 83h1v1h-1zM100 83h1v1h-1zM113 83h1v1h-1zM116 83h1v1h-1zM121 83h1v1h-1zM52 84h1v1h-1zM56 84h2v1h-2zM75 84h2v1h-2zM82 84h2v1h-2zM94 84h1v1h-1zM119 84h1v1h-1zM141 84h1v1h-1zM63 85h1v1h-1zM66 85h1v1h-1zM76 85h1v1h-1zM81 85h2v1h-2zM86 85h1v1h-1zM89 85h1v1h-1zM127 85h1v1h-1zM154 85h1v1h-1zM32 86h1v1h-1zM42 86h1v1h-1zM50 86h1v1h-1zM52 86h1v1h-1zM62 86h1v1h-1zM64 86h1v1h-1zM80 86h2v1h-2zM92 86h1v1h-1zM105 86h1v1h-1zM154 86h1v1h-1zM45 87h1v1h-1zM50 87h1v1h-1zM57 87h1v1h-1zM71 87h1v1h-1zM94 87h1v1h-1zM109 87h1v1h-1zM77 88h1v1h-1zM83 88h1v1h-1zM91 88h1v1h-1zM93 88h1v1h-1zM106 88h1v1h-1zM122 88h1v1h-1zM48 89h1v1h-1zM59 89h1v1h-1zM61 89h1v1h-1zM70 89h1v1h-1zM76 89h1v1h-1zM99 89h1v1h-1zM110 89h1v1h-1zM124 89h1v1h-1zM200 89h1v1h-1zM43 90h1v1h-1zM47 90h1v1h-1zM53 90h1v1h-1zM55 90h1v1h-1zM58 90h1v1h-1zM63 90h1v1h-1zM67 90h1v1h-1zM69 90h1v1h-1zM89 90h1v1h-1zM95 90h1v1h-1zM100 90h1v1h-1zM44 91h1v1h-1zM50 91h2v1h-2zM63 91h1v1h-1zM65 91h1v1h-1zM83 91h1v1h-1zM87 91h1v1h-1zM93 91h1v1h-1zM115 91h1v1h-1zM142 91h1v1h-1zM235 91h1v1h-1zM56 92h1v1h-1zM65 92h1v1h-1zM82 92h1v1h-1zM124 92h1v1h-1zM143 92h1v1h-1zM35 93h1v1h-1zM69 93h2v1h-2zM82 93h2v1h-2zM44 94h1v1h-1zM47 94h1v1h-1zM67 94h1v1h-1zM85 94h1v1h-1zM96 94h1v1h-1zM112 94h1v1h-1zM147 94h1v1h-1zM249 94h1v1h-1zM42 95h2v1h-2zM46 95h1v1h-1zM48 95h1v1h-1zM58 95h2v1h-2zM86 95h1v1h-1zM230 95h1v1h-1zM35 96h1v1h-1zM43 96h1v1h-1zM50 96h1v1h-1zM72 96h1v1h-1zM82 96h2v1h-2zM90 96h1v1h-1zM92 96h1v1h-1zM98 96h1v1h-1zM117 96h1v1h-1zM187 96h1v1h-1zM49 97h1v1h-1zM58 97h1v1h-1zM77 97h1v1h-1zM84 97h1v1h-1zM88 97h1v1h-1zM139 97h1v1h-1zM83 98h1v1h-1zM87 98h1v1h-1zM101 98h1v1h-1zM112 98h1v1h-1zM128 98h1v1h-1zM186 98h1v1h-1zM55 99h1v1h-1zM62 99h1v1h-1zM81 99h1v1h-1zM103 99h1v1h-1zM111 99h1v1h-1zM119 99h1v1h-1zM180 99h1v1h-1zM34 100h1v1h-1zM37 100h1v1h-1zM70 100h1v1h-1zM74 100h1v1h-1zM44 101h1v1h-1zM72 101h1v1h-1zM103 101h1v1h-1zM38 102h1v1h-1zM49 102h2v1h-2zM56 102h1v1h-1zM71 102h1v1h-1zM188 102h1v1h-1zM39 103h1v1h-1zM42 103h1v1h-1zM54 103h1v1h-1zM62 103h1v1h-1zM123 103h1v1h-1zM55 104h1v1h-1zM78 104h1v1h-1zM88 104h1v1h-1zM139 104h1v1h-1zM46 105h1v1h-1zM51 105h1v1h-1zM68 105h1v1h-1zM78 105h1v1h-1zM146 105h1v1h-1zM49 106h1v1h-1zM108 106h1v1h-1zM63 107h1v1h-1zM76 107h1v1h-1zM134 107h1v1h-1zM72 108h1v1h-1zM75 108h1v1h-1zM95 108h1v1h-1zM105 108h1v1h-1zM45 111h1v1h-1zM109 111h1v1h-1zM75 112h1v1h-1zM101 112h1v1h-1zM103 112h1v1h-1zM50 114h1v1h-1zM55 114h1v1h-1zM129 114h1v1h-1zM91 115h1v1h-1zM118 115h1v1h-1zM36 116h1v1h-1zM106 116h1v1h-1zM46 117h1v1h-1zM74 117h1v1h-1zM255 117h1v1h-1zM54 118h1v1h-1zM51 119h1v1h-1zM70 119h1v1h-1zM130 119h1v1h-1zM92 120h1v1h-1zM233 120h1v1h-1zM68 121h1v1h-1zM78 121h1v1h-1zM85 121h1v1h-1zM122 121h1v1h-1zM208 121h1v1h-1zM41 122h1v1h-1zM53 122h1v1h-1zM59 122h1v1h-1zM45 123h1v1h-1zM80 123h1v1h-1zM91 123h1v1h-1zM33 124h1v1h-1zM84 124h1v1h-1zM171 124h1v1h-1zM75 125h1v1h-1zM86 125h1v1h-1zM130 125h1v1h-1zM62 126h1v1h-1zM73 126h1v1h-1zM91 128h1v1h-1zM51 129h1v1h-1zM122 130h1v1h-1zM169 130h1v1h-1zM37 131h1v1h-1zM60 132h1v1h-1zM74 133h1v1h-1zM100 133h1v1h-1zM73 134h1v1h-1zM71 135h1v1h-1zM123 135h1v1h-1zM58 136h1v1h-1zM74 136h1v1h-1zM46 138h1v1h-1zM70 139h1v1h-1zM90 139h1v1h-1zM198 139h1v1h-1zM85 141h1v1h-1zM157 143h1v1h-1zM147 146h1v1h-1zM70 147h1v1h-1zM125 149h1v1h-1zM68 150h1v1h-1zM86 150h1v1h-1zM57 152h1v1h-1zM60 152h1v1h-1zM32 154h1v1h-1zM47 154h1v1h-1zM74 155h1v1h-1zM117 155h1v1h-1zM46 156h1v1h-1zM100 157h1v1h-1zM44 163h1v1h-1zM49 163h1v1h-1zM72 163h1v1h-1zM106 163h1v1h-1zM140 163h1v1h-1zM107 165h1v1h-1zM47 169h1v1h-1zM120 171h1v1h-1zM49 172h1v1h-1zM61 173h1v1h-1zM231 178h1v1h-1zM126 179h1v1h-1zM134 180h1v1h-1zM108 181h1v1h-1zM84 183h1v1h-1zM120 185h1v1h-1zM83 187h1v1h-1zM36 188h1v1h-1zM42 191h1v1h-1zM64 194h1v1h-1zM149 194h1v1h-1zM82 196h1v1h-1z"/>
<path fill="#4a4a4a" d="M33 2h9v1h-2v1h5v1h6v1h5v.6h-23z"/><path fill="#666" d="M42 2h6v1h-8v1h-0zM45 3h5v1h-5zM51 4h6v1h-6zM56 5h6v1h-6zM33 1.4h12v.6h-12z"/>
</g>
<ellipse cx="762" cy="304.8" rx="131" ry="156" fill="none" stroke="#000" stroke-width="1.8"/>
<rect x="52.3" y="840.4" width="764.1" height="763.3" fill="#fff"/>
<rect x="56.9" y="840.4" width="754.9" height="1.6" fill="#d2d2d2"/>
<rect x="52.3" y="845.5" width="2.0" height="754.5" fill="#cdcdcd"/>
<rect x="57.3" y="845.0" width="754.5" height="755.0" fill="#c8c8c8"/>
<rect x="811.8" y="840.4" width="4.6" height="763.3" fill="#4a4a4a"/>
<rect x="52.3" y="1600.0" width="764.1" height="3.7" fill="#4a4a4a"/>
<rect x="811.8" y="844.4" width="2.2" height="755.6" fill="#8c8c8c"/>
<rect x="57.3" y="1600.0" width="756.7" height="1.7" fill="#8c8c8c"/>
<path d="M52.3 1604.9H816.4M817.4 842.4V1603.7" stroke="#b4b4b4" stroke-width="1.8" stroke-dasharray="7.2 6.4" fill="none"/>
<rect x="43.0" y="840.3" width="3.0" height="1.8" fill="#c4c4c4"/>
<rect x="817.5" y="840.3" width="6.0" height="1.8" fill="#c4c4c4"/>
<rect x="43.0" y="894.8" width="3.0" height="1.8" fill="#c4c4c4"/>
<rect x="817.5" y="894.8" width="6.0" height="1.8" fill="#c4c4c4"/>
<rect x="43.0" y="949.3" width="3.0" height="1.8" fill="#c4c4c4"/>
<rect x="817.5" y="949.3" width="6.0" height="1.8" fill="#c4c4c4"/>
<rect x="43.0" y="1003.8" width="3.0" height="1.8" fill="#c4c4c4"/>
<rect x="817.5" y="1003.8" width="6.0" height="1.8" fill="#c4c4c4"/>
<rect x="43.0" y="1058.3" width="3.0" height="1.8" fill="#c4c4c4"/>
<rect x="817.5" y="1058.3" width="6.0" height="1.8" fill="#c4c4c4"/>
<rect x="43.0" y="1112.8" width="3.0" height="1.8" fill="#c4c4c4"/>
<rect x="817.5" y="1112.8" width="6.0" height="1.8" fill="#c4c4c4"/>
<rect x="43.0" y="1167.3" width="3.0" height="1.8" fill="#c4c4c4"/>
<rect x="817.5" y="1167.3" width="6.0" height="1.8" fill="#c4c4c4"/>
<rect x="43.0" y="1221.8" width="3.0" height="1.8" fill="#c4c4c4"/>
<rect x="817.5" y="1221.8" width="6.0" height="1.8" fill="#c4c4c4"/>
<rect x="43.0" y="1276.3" width="3.0" height="1.8" fill="#c4c4c4"/>
<rect x="817.5" y="1276.3" width="6.0" height="1.8" fill="#c4c4c4"/>
<rect x="43.0" y="1330.8" width="3.0" height="1.8" fill="#c4c4c4"/>
<rect x="817.5" y="1330.8" width="6.0" height="1.8" fill="#c4c4c4"/>
<rect x="43.0" y="1385.3" width="3.0" height="1.8" fill="#c4c4c4"/>
<rect x="817.5" y="1385.3" width="6.0" height="1.8" fill="#c4c4c4"/>
<rect x="43.0" y="1439.8" width="3.0" height="1.8" fill="#c4c4c4"/>
<rect x="817.5" y="1439.8" width="6.0" height="1.8" fill="#c4c4c4"/>
<rect x="43.0" y="1494.3" width="3.0" height="1.8" fill="#c4c4c4"/>
<rect x="817.5" y="1494.3" width="6.0" height="1.8" fill="#c4c4c4"/>
<rect x="43.0" y="1548.8" width="3.0" height="1.8" fill="#c4c4c4"/>
<rect x="817.5" y="1548.8" width="6.0" height="1.8" fill="#c4c4c4"/>
<rect x="43.0" y="1603.3" width="3.0" height="1.8" fill="#c4c4c4"/>
<rect x="817.5" y="1603.3" width="6.0" height="1.8" fill="#c4c4c4"/>
<rect x="61.9" y="849.2" width="745.7" height="586.8" fill="#fff"/>
<rect x="61.9" y="849.2" width="743.6" height="584.7" fill="#e2e2e2"/>
<rect x="61.9" y="849.2" width="741.2" height="582.3" fill="#808080"/>
<rect x="63.9" y="851.2" width="739.2" height="580.3" fill="#000"/>
<rect x="66.1" y="853.5" width="737.0" height="578.0" fill="#fff"/>
<rect x="61.9" y="1443.3" width="745.7" height="152.1" fill="#fff"/>
<rect x="61.9" y="1443.3" width="743.3" height="149.7" fill="#e2e2e2"/>
<rect x="61.9" y="1443.3" width="740.7" height="147.1" fill="#808080"/>
<rect x="63.9" y="1445.3" width="738.7" height="145.1" fill="#000"/>
<rect x="65.9" y="1447.3" width="736.7" height="143.1" fill="#fff"/>
<rect x="63.9" y="1445.3" width="739.6" height="145.1" fill="#000"/>
<rect x="68.0" y="1449.2" width="733.0" height="139.0" fill="#fff"/>
<rect x="68.0" y="1449.2" width="146.8" height="36.9" fill="#787878"/>
<rect x="68.0" y="1449.2" width="144.3" height="34.1" fill="#fff"/>
<rect x="70.4" y="1451.6" width="141.9" height="31.7" fill="#c8c8c8"/>
<text x="201.2" y="1477.9" font-size="24" text-anchor="end" class="t">Region</text>
<rect x="214.8" y="1449.2" width="147.4" height="36.9" fill="#787878"/>
<rect x="214.8" y="1449.2" width="144.9" height="34.1" fill="#fff"/>
<rect x="217.2" y="1451.6" width="142.5" height="31.7" fill="#c8c8c8"/>
<text x="348.6" y="1477.9" font-size="24" text-anchor="end" class="t">Count</text>
<rect x="362.2" y="1449.2" width="113.4" height="36.9" fill="#787878"/>
<rect x="362.2" y="1449.2" width="110.9" height="34.1" fill="#fff"/>
<rect x="364.6" y="1451.6" width="108.5" height="31.7" fill="#c8c8c8"/>
<text x="462.0" y="1477.9" font-size="24" text-anchor="end" class="t">% Hist</text>
<rect x="475.6" y="1449.2" width="125.9" height="36.9" fill="#787878"/>
<rect x="475.6" y="1449.2" width="123.4" height="34.1" fill="#fff"/>
<rect x="478.0" y="1451.6" width="121.0" height="31.7" fill="#c8c8c8"/>
<text x="587.9" y="1477.9" font-size="24" text-anchor="end" class="t">Mean</text>
<rect x="601.5" y="1449.2" width="125.7" height="36.9" fill="#787878"/>
<rect x="601.5" y="1449.2" width="123.2" height="34.1" fill="#fff"/>
<rect x="603.9" y="1451.6" width="120.8" height="31.7" fill="#c8c8c8"/>
<text x="713.6" y="1477.9" font-size="24" text-anchor="end" class="t">CV</text>
<rect x="727.2" y="1449.2" width="73.8" height="36.9" fill="#787878"/>
<rect x="727.2" y="1449.2" width="71.3" height="34.1" fill="#fff"/>
<rect x="729.6" y="1451.6" width="68.9" height="31.7" fill="#c8c8c8"/>
<rect x="68.0" y="1486.1" width="733.0" height="2.0" fill="#000"/>
<text x="208.9" y="1512.2" font-size="24" text-anchor="end" class="t">Total</text>
<text x="356.3" y="1512.2" font-size="24" text-anchor="end" class="t">7715</text>
<text x="469.7" y="1512.2" font-size="24" text-anchor="end" class="t">100.00</text>
<text x="595.6" y="1512.2" font-size="24" text-anchor="end" class="t">20.62</text>
<text x="721.3" y="1512.2" font-size="24" text-anchor="end" class="t">63.94</text>
<text x="208.9" y="1544.2" font-size="24" text-anchor="end" class="t">R4</text>
<text x="356.3" y="1544.2" font-size="24" text-anchor="end" class="t">7294</text>
<text x="469.7" y="1544.2" font-size="24" text-anchor="end" class="t">94.54</text>
<text x="595.6" y="1544.2" font-size="24" text-anchor="end" class="t">21.35</text>
<text x="721.3" y="1544.2" font-size="24" text-anchor="end" class="t">61.82</text>
<rect x="66.5" y="853.8" width="60.2" height="37.5" fill="#808080"/>
<rect x="68.1" y="855.4" width="57.0" height="34.3" fill="#fff"/>
<rect x="70.5" y="857.8" width="54.6" height="31.9" fill="url(#gi)"/>
<rect x="82.0" y="858.4" width="17.8" height="8.6" fill="#6e6e6e"/>
<rect x="82.0" y="866.8" width="24.7" height="18.2" fill="#6e6e6e"/>
<rect x="84.0" y="869.9" width="22.7" height="5.3" fill="#c4c4c4"/>
<rect x="89.0" y="871.6" width="10.5" height="1.8" fill="#7a7a7a"/>
<rect x="84.0" y="883.0" width="22.7" height="2.2" fill="#d0d0d0"/>
<rect x="106.7" y="866.8" width="2.3" height="20.6" fill="#000"/>
<rect x="84.0" y="885.2" width="25.0" height="2.2" fill="#000"/>
<rect x="99.8" y="860.0" width="2.4" height="7.0" fill="#000"/>
<rect x="132.0" y="853.8" width="604.8" height="37.6" fill="#808080"/>
<rect x="133.7" y="855.5" width="601.5" height="34.3" fill="#fff"/>
<text x="142.3" y="882.2" font-size="25.5" class="tb" textLength="261" lengthAdjust="spacing" xml:space="preserve">Sample_40  (G1: R1)</text>
<rect x="739.8" y="854.4" width="60.6" height="37.0" fill="#808080"/>
<rect x="739.8" y="854.4" width="59.0" height="35.4" fill="#fff"/>
<rect x="743.0" y="857.6" width="55.8" height="32.2" fill="url(#gb)"/>
<path fill="#000" d="M755.0 860.0h5.4L780.4 883.0h-5.4z"/><path fill="#000" d="M780.4 860.0h-5.4L755.0 883.0h5.4z"/>
<path d="M262.0 1349.9V1349.9h2.2V1347.5h2.2V1345.6h2.2V1344.9h2.2V1344.4h2.2V1343.6h2.2V1343.9h2.2V1343.6h2.2V1342.3h2.2V1341.8h2.2V1338.1h2.2V1335.9h2.2V1334.0h2.2V1330.8h2.2V1324.5h2.2V1315.5h2.2V1314.4h2.2V1310.8h2.2V1305.2h2.2V1300.3h2.2V1290.3h2.2V1278.6h2.2V1270.7h2.2V1261.9h2.2V1247.5h2.2V1234.3h2.2V1222.3h2.2V1209.3h2.2V1196.1h2.2V1170.0h2.2V1156.3h2.2V1135.9h2.2V1125.0h2.2V1098.7h2.2V1102.2h2.2V1084.0h2.2V1080.7h2.2V1085.7h2.2V1071.1h2.2V1072.9h2.2V1062.8h2.2V1068.5h2.2V1065.6h2.2V1064.3h2.2V1082.7h2.2V1087.1h2.2V1102.9h2.2V1102.4h2.2V1121.2h2.2V1137.5h2.2V1158.9h2.2V1178.6h2.2V1199.9h2.2V1213.1h2.2V1231.8h2.2V1242.2h2.2V1254.3h2.2V1265.8h2.2V1274.9h2.2V1280.4h2.2V1285.6h2.2V1287.0h2.2V1289.4h2.2V1295.3h2.2V1300.6h2.2V1303.5h2.2V1305.1h2.2V1308.0h2.2V1309.9h2.2V1312.1h2.2V1314.7h2.2V1314.4h2.2V1315.8h2.2V1320.7h2.2V1323.6h2.2V1323.9h2.2V1329.2h2.2V1330.5h2.2V1333.2h2.2V1333.4h2.2V1332.3h2.2V1332.5h2.2V1334.7h2.2V1336.8h2.2V1337.3h2.2V1339.3h2.2V1337.2h2.2V1338.8h2.2V1339.6h2.2V1339.5h2.2V1340.1h2.2V1343.6h2.2V1344.9h2.2V1343.1h2.2V1347.0h2.2V1347.0h2.2V1348.7h2.2V1347.8h2.2V1349.0h2.2V1347.1h2.2V1347.0h2.2V1348.9h2.2V1346.8h2.2V1347.0h2.2V1349.9h2.2V1349.9h2.2V1347.5h2.2V1349.2h2.2V1349.4h2.2V1349.9h2.2V1349.9Z" fill="#595959"/>
<path d="M160.1 1349.9V911.5H784.3V1349.9Z" fill="none" stroke="#000" stroke-width="2"/>
<line x1="148.5" y1="911.5" x2="160.1" y2="911.5" stroke="#000" stroke-width="2"/>
<text transform="translate(142.1,921.9) scale(1,1.07)" font-size="24" text-anchor="end" class="a">456</text>
<line x1="148.5" y1="1020.5" x2="160.1" y2="1020.5" stroke="#000" stroke-width="2"/>
<text transform="translate(142.1,1030.9) scale(1,1.07)" font-size="24" text-anchor="end" class="a">342</text>
<line x1="148.5" y1="1131.7" x2="160.1" y2="1131.7" stroke="#000" stroke-width="2"/>
<text transform="translate(142.1,1142.1) scale(1,1.07)" font-size="24" text-anchor="end" class="a">228</text>
<line x1="148.5" y1="1240.9" x2="160.1" y2="1240.9" stroke="#000" stroke-width="2"/>
<text transform="translate(142.1,1251.3) scale(1,1.07)" font-size="24" text-anchor="end" class="a">114</text>
<line x1="148.5" y1="1350.1" x2="160.1" y2="1350.1" stroke="#000" stroke-width="2"/>
<text transform="translate(142.1,1360.5) scale(1,1.07)" font-size="24" text-anchor="end" class="a">0</text>
<clipPath id="c00"><rect x="120.1" y="1349.9" width="670.8" height="50"/></clipPath>
<g clip-path="url(#c00)">
<line x1="160.1" y1="1349.9" x2="160.1" y2="1362.7" stroke="#000" stroke-width="2"/>
<text transform="translate(156.5,1388.0) scale(1,1.07)" font-size="24" text-anchor="end" class="a">10</text>
<text transform="translate(158.9,1381.2) scale(1,1.07)" font-size="18" text-anchor="start" class="a">0</text>
<line x1="316.1" y1="1349.9" x2="316.1" y2="1362.7" stroke="#000" stroke-width="2"/>
<text transform="translate(312.5,1388.0) scale(1,1.07)" font-size="24" text-anchor="end" class="a">10</text>
<text transform="translate(314.9,1381.2) scale(1,1.07)" font-size="18" text-anchor="start" class="a">1</text>
<line x1="472.2" y1="1349.9" x2="472.2" y2="1362.7" stroke="#000" stroke-width="2"/>
<text transform="translate(468.6,1388.0) scale(1,1.07)" font-size="24" text-anchor="end" class="a">10</text>
<text transform="translate(471.0,1381.2) scale(1,1.07)" font-size="18" text-anchor="start" class="a">2</text>
<line x1="628.2" y1="1349.9" x2="628.2" y2="1362.7" stroke="#000" stroke-width="2"/>
<text transform="translate(624.6,1388.0) scale(1,1.07)" font-size="24" text-anchor="end" class="a">10</text>
<text transform="translate(627.0,1381.2) scale(1,1.07)" font-size="18" text-anchor="start" class="a">3</text>
<line x1="784.3" y1="1349.9" x2="784.3" y2="1362.7" stroke="#000" stroke-width="2"/>
<text transform="translate(780.7,1388.0) scale(1,1.07)" font-size="24" text-anchor="end" class="a">10</text>
<text transform="translate(783.1,1381.2) scale(1,1.07)" font-size="18" text-anchor="start" class="a">4</text>
</g>
<text transform="translate(470.0,1412.6) scale(1,1.07)" font-size="24" text-anchor="middle" class="a">GFP Fluorescence Log</text>
<text transform="translate(93.8,1133.0) rotate(-90) scale(1,1.07)" font-size="24.4" text-anchor="middle" class="a">Counts</text>
<path d="M314.4 1191.8V1115.8H622.5V1189.9" fill="none" stroke="#000" stroke-width="1.8"/>
<text transform="translate(319.0,1146.3) scale(1,1.07)" font-size="22" text-anchor="start" class="a">R4</text>
<rect x="855.6" y="845.1" width="764.1" height="763.3" fill="#fff"/>
<rect x="860.2" y="845.1" width="754.9" height="1.6" fill="#d2d2d2"/>
<rect x="855.6" y="850.2" width="2.0" height="754.5" fill="#cdcdcd"/>
<rect x="860.6" y="849.7" width="754.5" height="755.0" fill="#c8c8c8"/>
<rect x="1615.1" y="845.1" width="4.6" height="763.3" fill="#4a4a4a"/>
<rect x="855.6" y="1604.7" width="764.1" height="3.7" fill="#4a4a4a"/>
<rect x="1615.1" y="849.1" width="2.2" height="755.6" fill="#8c8c8c"/>
<rect x="860.6" y="1604.7" width="756.7" height="1.7" fill="#8c8c8c"/>
<path d="M855.6 1609.6H1619.7M1620.7 847.1V1608.4" stroke="#b4b4b4" stroke-width="1.8" stroke-dasharray="7.2 6.4" fill="none"/>
<rect x="1621.0" y="845.0" width="11.0" height="1.8" fill="#c4c4c4"/>
<rect x="1621.0" y="899.5" width="11.0" height="1.8" fill="#c4c4c4"/>
<rect x="1621.0" y="954.0" width="11.0" height="1.8" fill="#c4c4c4"/>
<rect x="1621.0" y="1008.5" width="11.0" height="1.8" fill="#c4c4c4"/>
<rect x="1621.0" y="1063.0" width="11.0" height="1.8" fill="#c4c4c4"/>
<rect x="1621.0" y="1117.5" width="11.0" height="1.8" fill="#c4c4c4"/>
<rect x="1621.0" y="1172.0" width="11.0" height="1.8" fill="#c4c4c4"/>
<rect x="1621.0" y="1226.5" width="11.0" height="1.8" fill="#c4c4c4"/>
<rect x="1621.0" y="1281.0" width="11.0" height="1.8" fill="#c4c4c4"/>
<rect x="1621.0" y="1335.5" width="11.0" height="1.8" fill="#c4c4c4"/>
<rect x="1621.0" y="1390.0" width="11.0" height="1.8" fill="#c4c4c4"/>
<rect x="1621.0" y="1444.5" width="11.0" height="1.8" fill="#c4c4c4"/>
<rect x="1621.0" y="1499.0" width="11.0" height="1.8" fill="#c4c4c4"/>
<rect x="1621.0" y="1553.5" width="11.0" height="1.8" fill="#c4c4c4"/>
<rect x="1621.0" y="1608.0" width="11.0" height="1.8" fill="#c4c4c4"/>
<rect x="865.2" y="853.9" width="745.7" height="586.8" fill="#fff"/>
<rect x="865.2" y="853.9" width="743.6" height="584.7" fill="#e2e2e2"/>
<rect x="865.2" y="853.9" width="741.2" height="582.3" fill="#808080"/>
<rect x="867.2" y="855.9" width="739.2" height="580.3" fill="#000"/>
<rect x="869.4" y="858.2" width="737.0" height="578.0" fill="#fff"/>
<rect x="865.2" y="1448.0" width="745.7" height="152.1" fill="#fff"/>
<rect x="865.2" y="1448.0" width="743.3" height="149.7" fill="#e2e2e2"/>
<rect x="865.2" y="1448.0" width="740.7" height="147.1" fill="#808080"/>
<rect x="867.2" y="1450.0" width="738.7" height="145.1" fill="#000"/>
<rect x="869.2" y="1452.0" width="736.7" height="143.1" fill="#fff"/>
<rect x="867.2" y="1450.0" width="739.6" height="145.1" fill="#000"/>
<rect x="871.3" y="1453.9" width="733.0" height="139.0" fill="#fff"/>
<rect x="871.3" y="1453.9" width="146.8" height="36.9" fill="#787878"/>
<rect x="871.3" y="1453.9" width="144.3" height="34.1" fill="#fff"/>
<rect x="873.7" y="1456.3" width="141.9" height="31.7" fill="#c8c8c8"/>
<text x="1004.5" y="1482.6" font-size="24" text-anchor="end" class="t">Region</text>
<rect x="1018.1" y="1453.9" width="147.4" height="36.9" fill="#787878"/>
<rect x="1018.1" y="1453.9" width="144.9" height="34.1" fill="#fff"/>
<rect x="1020.5" y="1456.3" width="142.5" height="31.7" fill="#c8c8c8"/>
<text x="1151.9" y="1482.6" font-size="24" text-anchor="end" class="t">Count</text>
<rect x="1165.5" y="1453.9" width="113.4" height="36.9" fill="#787878"/>
<rect x="1165.5" y="1453.9" width="110.9" height="34.1" fill="#fff"/>
<rect x="1167.9" y="1456.3" width="108.5" height="31.7" fill="#c8c8c8"/>
<text x="1265.3" y="1482.6" font-size="24" text-anchor="end" class="t">% Hist</text>
<rect x="1278.9" y="1453.9" width="125.9" height="36.9" fill="#787878"/>
<rect x="1278.9" y="1453.9" width="123.4" height="34.1" fill="#fff"/>
<rect x="1281.3" y="1456.3" width="121.0" height="31.7" fill="#c8c8c8"/>
<text x="1391.2" y="1482.6" font-size="24" text-anchor="end" class="t">Mean</text>
<rect x="1404.8" y="1453.9" width="125.7" height="36.9" fill="#787878"/>
<rect x="1404.8" y="1453.9" width="123.2" height="34.1" fill="#fff"/>
<rect x="1407.2" y="1456.3" width="120.8" height="31.7" fill="#c8c8c8"/>
<text x="1516.9" y="1482.6" font-size="24" text-anchor="end" class="t">CV</text>
<rect x="1530.5" y="1453.9" width="73.8" height="36.9" fill="#787878"/>
<rect x="1530.5" y="1453.9" width="71.3" height="34.1" fill="#fff"/>
<rect x="1532.9" y="1456.3" width="68.9" height="31.7" fill="#c8c8c8"/>
<rect x="871.3" y="1490.8" width="733.0" height="2.0" fill="#000"/>
<text x="1012.2" y="1516.9" font-size="24" text-anchor="end" class="t">Total</text>
<text x="1159.6" y="1516.9" font-size="24" text-anchor="end" class="t">13404</text>
<text x="1273.0" y="1516.9" font-size="24" text-anchor="end" class="t">100.00</text>
<text x="1398.9" y="1516.9" font-size="24" text-anchor="end" class="t">9.11</text>
<text x="1524.6" y="1516.9" font-size="24" text-anchor="end" class="t">102.93</text>
<text x="1012.2" y="1548.9" font-size="24" text-anchor="end" class="t">R4</text>
<text x="1159.6" y="1548.9" font-size="24" text-anchor="end" class="t">2846</text>
<text x="1273.0" y="1548.9" font-size="24" text-anchor="end" class="t">21.23</text>
<text x="1398.9" y="1548.9" font-size="24" text-anchor="end" class="t">22.06</text>
<text x="1524.6" y="1548.9" font-size="24" text-anchor="end" class="t">62.32</text>
<rect x="869.8" y="858.5" width="60.2" height="37.5" fill="#808080"/>
<rect x="871.4" y="860.1" width="57.0" height="34.3" fill="#fff"/>
<rect x="873.8" y="862.5" width="54.6" height="31.9" fill="url(#gi)"/>
<rect x="885.3" y="863.1" width="17.8" height="8.6" fill="#6e6e6e"/>
<rect x="885.3" y="871.5" width="24.7" height="18.2" fill="#6e6e6e"/>
<rect x="887.3" y="874.6" width="22.7" height="5.3" fill="#c4c4c4"/>
<rect x="892.3" y="876.3" width="10.5" height="1.8" fill="#7a7a7a"/>
<rect x="887.3" y="887.7" width="22.7" height="2.2" fill="#d0d0d0"/>
<rect x="910.0" y="871.5" width="2.3" height="20.6" fill="#000"/>
<rect x="887.3" y="889.9" width="25.0" height="2.2" fill="#000"/>
<rect x="903.1" y="864.7" width="2.4" height="7.0" fill="#000"/>
<rect x="935.3" y="858.5" width="604.8" height="37.6" fill="#808080"/>
<rect x="937.0" y="860.2" width="601.5" height="34.3" fill="#fff"/>
<text x="945.6" y="886.9" font-size="25.5" class="tb" textLength="261" lengthAdjust="spacing" xml:space="preserve">Sample_46  (G1: R1)</text>
<rect x="1543.1" y="859.1" width="60.6" height="37.0" fill="#808080"/>
<rect x="1543.1" y="859.1" width="59.0" height="35.4" fill="#fff"/>
<rect x="1546.3" y="862.3" width="55.8" height="32.2" fill="url(#gb)"/>
<path fill="#000" d="M1558.3 864.7h5.4L1583.7 887.7h-5.4z"/><path fill="#000" d="M1583.7 864.7h-5.4L1558.3 887.7h5.4z"/>
<path d="M963.4 1354.6V1350.6h2.2V1349.0h2.2V1349.1h2.2V1352.1h2.2V1351.1h2.2V1350.8h2.2V1349.3h2.2V1350.7h2.2V1351.3h2.2V1350.8h2.2V1351.0h2.2V1348.5h2.2V1348.9h2.2V1345.7h2.2V1346.0h2.2V1344.6h2.2V1344.3h2.2V1343.2h2.2V1341.5h2.2V1337.9h2.2V1335.9h2.2V1334.4h2.2V1331.0h2.2V1329.2h2.2V1328.7h2.2V1322.7h2.2V1321.3h2.2V1317.5h2.2V1314.8h2.2V1310.0h2.2V1301.7h2.2V1294.7h2.2V1281.0h2.2V1276.1h2.2V1262.8h2.2V1253.7h2.2V1248.6h2.2V1231.4h2.2V1232.1h2.2V1226.5h2.2V1224.6h2.2V1204.9h2.2V1173.3h2.2V1152.4h2.2V1145.1h2.2V1150.1h2.2V1131.1h2.2V1112.6h2.2V1100.3h2.2V1096.1h2.2V1085.8h2.2V1065.5h2.2V1070.7h2.2V1060.3h2.2V1071.2h2.2V1068.2h2.2V1057.1h2.2V1088.4h2.2V1082.7h2.2V1095.5h2.2V1112.1h2.2V1117.2h2.2V1112.8h2.2V1119.2h2.2V1140.7h2.2V1164.2h2.2V1194.1h2.2V1214.6h2.2V1221.1h2.2V1228.2h2.2V1237.0h2.2V1253.5h2.2V1260.9h2.2V1278.1h2.2V1285.5h2.2V1297.8h2.2V1302.8h2.2V1308.4h2.2V1315.0h2.2V1314.4h2.2V1320.2h2.2V1318.8h2.2V1321.1h2.2V1317.4h2.2V1319.3h2.2V1322.5h2.2V1325.5h2.2V1323.7h2.2V1322.3h2.2V1317.9h2.2V1319.4h2.2V1322.8h2.2V1320.5h2.2V1315.9h2.2V1315.6h2.2V1309.6h2.2V1310.2h2.2V1316.6h2.2V1319.4h2.2V1318.6h2.2V1318.2h2.2V1309.5h2.2V1312.5h2.2V1315.5h2.2V1321.4h2.2V1316.0h2.2V1313.1h2.2V1319.1h2.2V1323.8h2.2V1320.2h2.2V1317.0h2.2V1320.0h2.2V1324.1h2.2V1325.8h2.2V1330.7h2.2V1333.1h2.2V1336.6h2.2V1337.8h2.2V1339.0h2.2V1339.6h2.2V1342.2h2.2V1342.4h2.2V1343.4h2.2V1345.2h2.2V1347.2h2.2V1347.9h2.2V1347.2h2.2V1351.3h2.2V1349.1h2.2V1352.7h2.2V1352.5h2.2V1351.2h2.2V1354.1h2.2V1352.1h2.2V1354.6h2.2V1354.6Z" fill="#595959"/>
<path d="M963.4 1354.6V916.2H1587.6V1354.6Z" fill="none" stroke="#000" stroke-width="2"/>
<line x1="951.8" y1="916.2" x2="963.4" y2="916.2" stroke="#000" stroke-width="2"/>
<text transform="translate(945.4,926.6) scale(1,1.07)" font-size="24" text-anchor="end" class="a">675</text>
<line x1="951.8" y1="1025.2" x2="963.4" y2="1025.2" stroke="#000" stroke-width="2"/>
<text transform="translate(945.4,1035.6) scale(1,1.07)" font-size="24" text-anchor="end" class="a">506</text>
<line x1="951.8" y1="1136.5" x2="963.4" y2="1136.5" stroke="#000" stroke-width="2"/>
<text transform="translate(945.4,1146.9) scale(1,1.07)" font-size="24" text-anchor="end" class="a">337</text>
<line x1="951.8" y1="1245.5" x2="963.4" y2="1245.5" stroke="#000" stroke-width="2"/>
<text transform="translate(945.4,1255.9) scale(1,1.07)" font-size="24" text-anchor="end" class="a">168</text>
<line x1="951.8" y1="1354.8" x2="963.4" y2="1354.8" stroke="#000" stroke-width="2"/>
<text transform="translate(945.4,1365.2) scale(1,1.07)" font-size="24" text-anchor="end" class="a">0</text>
<clipPath id="c8034"><rect x="923.4" y="1354.6" width="670.8" height="50"/></clipPath>
<g clip-path="url(#c8034)">
<line x1="963.4" y1="1354.6" x2="963.4" y2="1367.4" stroke="#000" stroke-width="2"/>
<text transform="translate(959.8,1392.7) scale(1,1.07)" font-size="24" text-anchor="end" class="a">10</text>
<text transform="translate(962.2,1385.9) scale(1,1.07)" font-size="18" text-anchor="start" class="a">0</text>
<line x1="1119.5" y1="1354.6" x2="1119.5" y2="1367.4" stroke="#000" stroke-width="2"/>
<text transform="translate(1115.9,1392.7) scale(1,1.07)" font-size="24" text-anchor="end" class="a">10</text>
<text transform="translate(1118.2,1385.9) scale(1,1.07)" font-size="18" text-anchor="start" class="a">1</text>
<line x1="1275.5" y1="1354.6" x2="1275.5" y2="1367.4" stroke="#000" stroke-width="2"/>
<text transform="translate(1271.9,1392.7) scale(1,1.07)" font-size="24" text-anchor="end" class="a">10</text>
<text transform="translate(1274.3,1385.9) scale(1,1.07)" font-size="18" text-anchor="start" class="a">2</text>
<line x1="1431.5" y1="1354.6" x2="1431.5" y2="1367.4" stroke="#000" stroke-width="2"/>
<text transform="translate(1428.0,1392.7) scale(1,1.07)" font-size="24" text-anchor="end" class="a">10</text>
<text transform="translate(1430.3,1385.9) scale(1,1.07)" font-size="18" text-anchor="start" class="a">3</text>
<line x1="1587.6" y1="1354.6" x2="1587.6" y2="1367.4" stroke="#000" stroke-width="2"/>
<text transform="translate(1584.0,1392.7) scale(1,1.07)" font-size="24" text-anchor="end" class="a">10</text>
<text transform="translate(1586.4,1385.9) scale(1,1.07)" font-size="18" text-anchor="start" class="a">4</text>
</g>
<text transform="translate(1273.3,1417.3) scale(1,1.07)" font-size="24" text-anchor="middle" class="a">GFP Fluorescence Log</text>
<text transform="translate(897.1,1137.7) rotate(-90) scale(1,1.07)" font-size="24.4" text-anchor="middle" class="a">Counts</text>
<path d="M1117.7 1196.4V1120.5H1425.8V1194.6" fill="none" stroke="#000" stroke-width="1.8"/>
<text transform="translate(1122.3,1151.0) scale(1,1.07)" font-size="22" text-anchor="start" class="a">R4</text>
<rect x="59.2" y="1689.1" width="764.1" height="763.3" fill="#fff"/>
<rect x="63.8" y="1689.1" width="754.9" height="1.6" fill="#d2d2d2"/>
<rect x="59.2" y="1694.2" width="2.0" height="754.5" fill="#cdcdcd"/>
<rect x="64.2" y="1693.7" width="754.5" height="755.0" fill="#c8c8c8"/>
<rect x="818.7" y="1689.1" width="4.6" height="763.3" fill="#4a4a4a"/>
<rect x="59.2" y="2448.7" width="764.1" height="3.7" fill="#4a4a4a"/>
<rect x="818.7" y="1693.1" width="2.2" height="755.6" fill="#8c8c8c"/>
<rect x="64.2" y="2448.7" width="756.7" height="1.7" fill="#8c8c8c"/>
<path d="M59.2 2453.6H823.3M824.3 1691.1V2452.4" stroke="#b4b4b4" stroke-width="1.8" stroke-dasharray="7.2 6.4" fill="none"/>
<rect x="45.0" y="1689.0" width="7.0" height="1.8" fill="#c4c4c4"/>
<rect x="824.5" y="1689.0" width="5.5" height="1.8" fill="#c4c4c4"/>
<rect x="836.0" y="1689.0" width="10.0" height="1.8" fill="#c4c4c4"/>
<rect x="45.0" y="1743.5" width="7.0" height="1.8" fill="#c4c4c4"/>
<rect x="824.5" y="1743.5" width="5.5" height="1.8" fill="#c4c4c4"/>
<rect x="836.0" y="1743.5" width="10.0" height="1.8" fill="#c4c4c4"/>
<rect x="45.0" y="1798.0" width="7.0" height="1.8" fill="#c4c4c4"/>
<rect x="824.5" y="1798.0" width="5.5" height="1.8" fill="#c4c4c4"/>
<rect x="836.0" y="1798.0" width="10.0" height="1.8" fill="#c4c4c4"/>
<rect x="45.0" y="1852.5" width="7.0" height="1.8" fill="#c4c4c4"/>
<rect x="824.5" y="1852.5" width="5.5" height="1.8" fill="#c4c4c4"/>
<rect x="836.0" y="1852.5" width="10.0" height="1.8" fill="#c4c4c4"/>
<rect x="45.0" y="1907.0" width="7.0" height="1.8" fill="#c4c4c4"/>
<rect x="824.5" y="1907.0" width="5.5" height="1.8" fill="#c4c4c4"/>
<rect x="836.0" y="1907.0" width="10.0" height="1.8" fill="#c4c4c4"/>
<rect x="45.0" y="1961.5" width="7.0" height="1.8" fill="#c4c4c4"/>
<rect x="824.5" y="1961.5" width="5.5" height="1.8" fill="#c4c4c4"/>
<rect x="836.0" y="1961.5" width="10.0" height="1.8" fill="#c4c4c4"/>
<rect x="45.0" y="2016.0" width="7.0" height="1.8" fill="#c4c4c4"/>
<rect x="824.5" y="2016.0" width="5.5" height="1.8" fill="#c4c4c4"/>
<rect x="836.0" y="2016.0" width="10.0" height="1.8" fill="#c4c4c4"/>
<rect x="45.0" y="2070.5" width="7.0" height="1.8" fill="#c4c4c4"/>
<rect x="824.5" y="2070.5" width="5.5" height="1.8" fill="#c4c4c4"/>
<rect x="836.0" y="2070.5" width="10.0" height="1.8" fill="#c4c4c4"/>
<rect x="45.0" y="2125.0" width="7.0" height="1.8" fill="#c4c4c4"/>
<rect x="824.5" y="2125.0" width="5.5" height="1.8" fill="#c4c4c4"/>
<rect x="836.0" y="2125.0" width="10.0" height="1.8" fill="#c4c4c4"/>
<rect x="45.0" y="2179.5" width="7.0" height="1.8" fill="#c4c4c4"/>
<rect x="824.5" y="2179.5" width="5.5" height="1.8" fill="#c4c4c4"/>
<rect x="836.0" y="2179.5" width="10.0" height="1.8" fill="#c4c4c4"/>
<rect x="45.0" y="2234.0" width="7.0" height="1.8" fill="#c4c4c4"/>
<rect x="824.5" y="2234.0" width="5.5" height="1.8" fill="#c4c4c4"/>
<rect x="836.0" y="2234.0" width="10.0" height="1.8" fill="#c4c4c4"/>
<rect x="45.0" y="2288.5" width="7.0" height="1.8" fill="#c4c4c4"/>
<rect x="824.5" y="2288.5" width="5.5" height="1.8" fill="#c4c4c4"/>
<rect x="836.0" y="2288.5" width="10.0" height="1.8" fill="#c4c4c4"/>
<rect x="45.0" y="2343.0" width="7.0" height="1.8" fill="#c4c4c4"/>
<rect x="824.5" y="2343.0" width="5.5" height="1.8" fill="#c4c4c4"/>
<rect x="836.0" y="2343.0" width="10.0" height="1.8" fill="#c4c4c4"/>
<rect x="45.0" y="2397.5" width="7.0" height="1.8" fill="#c4c4c4"/>
<rect x="824.5" y="2397.5" width="5.5" height="1.8" fill="#c4c4c4"/>
<rect x="836.0" y="2397.5" width="10.0" height="1.8" fill="#c4c4c4"/>
<rect x="45.0" y="2452.0" width="7.0" height="1.8" fill="#c4c4c4"/>
<rect x="824.5" y="2452.0" width="5.5" height="1.8" fill="#c4c4c4"/>
<rect x="836.0" y="2452.0" width="10.0" height="1.8" fill="#c4c4c4"/>
<rect x="68.8" y="1697.9" width="745.7" height="586.8" fill="#fff"/>
<rect x="68.8" y="1697.9" width="743.6" height="584.7" fill="#e2e2e2"/>
<rect x="68.8" y="1697.9" width="741.2" height="582.3" fill="#808080"/>
<rect x="70.8" y="1699.9" width="739.2" height="580.3" fill="#000"/>
<rect x="73.0" y="1702.2" width="737.0" height="578.0" fill="#fff"/>
<rect x="68.8" y="2292.0" width="745.7" height="152.1" fill="#fff"/>
<rect x="68.8" y="2292.0" width="743.3" height="149.7" fill="#e2e2e2"/>
<rect x="68.8" y="2292.0" width="740.7" height="147.1" fill="#808080"/>
<rect x="70.8" y="2294.0" width="738.7" height="145.1" fill="#000"/>
<rect x="72.8" y="2296.0" width="736.7" height="143.1" fill="#fff"/>
<rect x="70.8" y="2294.0" width="739.6" height="145.1" fill="#000"/>
<rect x="74.9" y="2297.9" width="733.0" height="139.0" fill="#fff"/>
<rect x="74.9" y="2297.9" width="146.8" height="36.9" fill="#787878"/>
<rect x="74.9" y="2297.9" width="144.3" height="34.1" fill="#fff"/>
<rect x="77.3" y="2300.3" width="141.9" height="31.7" fill="#c8c8c8"/>
<text x="208.1" y="2326.6" font-size="24" text-anchor="end" class="t">Region</text>
<rect x="221.7" y="2297.9" width="147.4" height="36.9" fill="#787878"/>
<rect x="221.7" y="2297.9" width="144.9" height="34.1" fill="#fff"/>
<rect x="224.1" y="2300.3" width="142.5" height="31.7" fill="#c8c8c8"/>
<text x="355.5" y="2326.6" font-size="24" text-anchor="end" class="t">Count</text>
<rect x="369.1" y="2297.9" width="113.4" height="36.9" fill="#787878"/>
<rect x="369.1" y="2297.9" width="110.9" height="34.1" fill="#fff"/>
<rect x="371.5" y="2300.3" width="108.5" height="31.7" fill="#c8c8c8"/>
<text x="468.9" y="2326.6" font-size="24" text-anchor="end" class="t">% Hist</text>
<rect x="482.5" y="2297.9" width="125.9" height="36.9" fill="#787878"/>
<rect x="482.5" y="2297.9" width="123.4" height="34.1" fill="#fff"/>
<rect x="484.9" y="2300.3" width="121.0" height="31.7" fill="#c8c8c8"/>
<text x="594.8" y="2326.6" font-size="24" text-anchor="end" class="t">Mean</text>
<rect x="608.4" y="2297.9" width="125.7" height="36.9" fill="#787878"/>
<rect x="608.4" y="2297.9" width="123.2" height="34.1" fill="#fff"/>
<rect x="610.8" y="2300.3" width="120.8" height="31.7" fill="#c8c8c8"/>
<text x="720.5" y="2326.6" font-size="24" text-anchor="end" class="t">CV</text>
<rect x="734.1" y="2297.9" width="73.8" height="36.9" fill="#787878"/>
<rect x="734.1" y="2297.9" width="71.3" height="34.1" fill="#fff"/>
<rect x="736.5" y="2300.3" width="68.9" height="31.7" fill="#c8c8c8"/>
<rect x="74.9" y="2334.8" width="733.0" height="2.0" fill="#000"/>
<text x="215.8" y="2360.9" font-size="24" text-anchor="end" class="t">Total</text>
<text x="363.2" y="2360.9" font-size="24" text-anchor="end" class="t">7129</text>
<text x="476.6" y="2360.9" font-size="24" text-anchor="end" class="t">100.00</text>
<text x="602.5" y="2360.9" font-size="24" text-anchor="end" class="t">1.25</text>
<text x="728.2" y="2360.9" font-size="24" text-anchor="end" class="t">59.60</text>
<text x="215.8" y="2392.9" font-size="24" text-anchor="end" class="t">R4</text>
<text x="363.2" y="2392.9" font-size="24" text-anchor="end" class="t">10</text>
<text x="476.6" y="2392.9" font-size="24" text-anchor="end" class="t">0.14</text>
<text x="602.5" y="2392.9" font-size="24" text-anchor="end" class="t">11.04</text>
<text x="728.2" y="2392.9" font-size="24" text-anchor="end" class="t">8.44</text>
<rect x="73.4" y="1702.5" width="60.2" height="37.5" fill="#808080"/>
<rect x="75.0" y="1704.1" width="57.0" height="34.3" fill="#fff"/>
<rect x="77.4" y="1706.5" width="54.6" height="31.9" fill="url(#gi)"/>
<rect x="88.9" y="1707.1" width="17.8" height="8.6" fill="#6e6e6e"/>
<rect x="88.9" y="1715.5" width="24.7" height="18.2" fill="#6e6e6e"/>
<rect x="90.9" y="1718.6" width="22.7" height="5.3" fill="#c4c4c4"/>
<rect x="95.9" y="1720.3" width="10.5" height="1.8" fill="#7a7a7a"/>
<rect x="90.9" y="1731.7" width="22.7" height="2.2" fill="#d0d0d0"/>
<rect x="113.6" y="1715.5" width="2.3" height="20.6" fill="#000"/>
<rect x="90.9" y="1733.9" width="25.0" height="2.2" fill="#000"/>
<rect x="106.7" y="1708.7" width="2.4" height="7.0" fill="#000"/>
<rect x="139.2" y="1702.5" width="46.8" height="37.6" fill="#808080"/>
<rect x="140.8" y="1704.1" width="43.6" height="34.4" fill="#fff"/>
<rect x="143.4" y="1707.1" width="13.3" height="29.0" fill="#000"/>
<rect x="146.0" y="1736.1" width="8.1" height="2.0" fill="#000"/>
<rect x="145.7" y="1709.3" width="8.7" height="8.8" fill="#c8c8c8"/>
<rect x="149.9" y="1709.3" width="2.5" height="8.8" fill="#fff"/>
<rect x="145.7" y="1718.1" width="8.7" height="16.0" fill="#808080"/>
<path fill="#808080" d="M161.2 1718.2h7.2v-7.2l15.8 11.4l-15.8 11.4v-7.2h-7.2z"/>
<rect x="189.3" y="1702.5" width="554.4" height="37.6" fill="#808080"/>
<rect x="191.0" y="1704.2" width="551.1" height="34.3" fill="#fff"/>
<text x="199.6" y="1730.9" font-size="25.5" class="tb" textLength="261" lengthAdjust="spacing" xml:space="preserve">Sample_77  (G1: R1)</text>
<rect x="746.7" y="1703.1" width="60.6" height="37.0" fill="#808080"/>
<rect x="746.7" y="1703.1" width="59.0" height="35.4" fill="#fff"/>
<rect x="749.9" y="1706.3" width="55.8" height="32.2" fill="url(#gb)"/>
<path fill="#000" d="M761.9 1708.7h5.4L787.3 1731.7h-5.4z"/><path fill="#000" d="M787.3 1708.7h-5.4L761.9 1731.7h5.4z"/>
<path d="M151.2 2198.6V1760.4h2.2V1760.4h2.2V1760.4h2.2V1760.4h2.2V1760.4h2.2V1760.4h2.2V1760.4h2.2V1760.4h2.2V1760.4h2.2V1760.4h2.2V1760.4h2.2V1760.4h2.2V1781.1h2.2V1807.4h2.2V1833.5h2.2V1839.8h2.2V1844.2h2.2V1870.8h2.2V1899.5h2.2V1926.6h2.2V1929.6h2.2V1954.8h2.2V1948.7h2.2V1950.6h2.2V1945.6h2.2V1948.7h2.2V1969.1h2.2V1987.2h2.2V1993.9h2.2V1986.5h2.2V1997.0h2.2V1989.7h2.2V2008.5h2.2V2016.5h2.2V2034.8h2.2V2048.8h2.2V2056.3h2.2V2040.8h2.2V2035.6h2.2V2064.1h2.2V2080.7h2.2V2086.4h2.2V2114.7h2.2V2117.7h2.2V2106.3h2.2V2087.0h2.2V2100.3h2.2V2115.9h2.2V2140.5h2.2V2153.8h2.2V2156.1h2.2V2160.6h2.2V2157.9h2.2V2158.4h2.2V2164.6h2.2V2178.9h2.2V2181.6h2.2V2185.9h2.2V2187.2h2.2V2188.9h2.2V2190.2h2.2V2192.2h2.2V2192.7h2.2V2190.5h2.2V2183.7h2.2V2180.5h2.2V2187.5h2.2V2191.7h2.2V2194.7h2.2V2194.4h2.2V2193.6h2.2V2188.6h2.2V2182.9h2.2V2180.2h2.2V2184.0h2.2V2190.4h2.2V2190.3h2.2V2188.5h2.2V2187.9h2.2V2185.2h2.2V2191.4h2.2V2198.6h2.2V2198.6Z" fill="#595959"/>
<path d="M151.2 2198.6V1760.2H791.2V2198.6Z" fill="none" stroke="#000" stroke-width="2"/>
<line x1="139.6" y1="1760.2" x2="151.2" y2="1760.2" stroke="#000" stroke-width="2"/>
<text transform="translate(133.2,1770.6) scale(1,1.07)" font-size="24" text-anchor="end" class="a">63</text>
<line x1="139.6" y1="1868.0" x2="151.2" y2="1868.0" stroke="#000" stroke-width="2"/>
<text transform="translate(133.2,1878.4) scale(1,1.07)" font-size="24" text-anchor="end" class="a">47</text>
<line x1="139.6" y1="1981.3" x2="151.2" y2="1981.3" stroke="#000" stroke-width="2"/>
<text transform="translate(133.2,1991.7) scale(1,1.07)" font-size="24" text-anchor="end" class="a">31</text>
<line x1="139.6" y1="2089.7" x2="151.2" y2="2089.7" stroke="#000" stroke-width="2"/>
<text transform="translate(133.2,2100.1) scale(1,1.07)" font-size="24" text-anchor="end" class="a">15</text>
<line x1="139.6" y1="2198.6" x2="151.2" y2="2198.6" stroke="#000" stroke-width="2"/>
<text transform="translate(133.2,2209.0) scale(1,1.07)" font-size="24" text-anchor="end" class="a">0</text>
<clipPath id="c6848"><rect x="111.2" y="2198.6" width="686.6" height="50"/></clipPath>
<g clip-path="url(#c6848)">
<line x1="151.2" y1="2198.6" x2="151.2" y2="2211.4" stroke="#000" stroke-width="2"/>
<text transform="translate(147.6,2236.7) scale(1,1.07)" font-size="24" text-anchor="end" class="a">10</text>
<text transform="translate(150.0,2229.9) scale(1,1.07)" font-size="18" text-anchor="start" class="a">0</text>
<line x1="311.2" y1="2198.6" x2="311.2" y2="2211.4" stroke="#000" stroke-width="2"/>
<text transform="translate(307.6,2236.7) scale(1,1.07)" font-size="24" text-anchor="end" class="a">10</text>
<text transform="translate(310.0,2229.9) scale(1,1.07)" font-size="18" text-anchor="start" class="a">1</text>
<line x1="471.2" y1="2198.6" x2="471.2" y2="2211.4" stroke="#000" stroke-width="2"/>
<text transform="translate(467.6,2236.7) scale(1,1.07)" font-size="24" text-anchor="end" class="a">10</text>
<text transform="translate(470.0,2229.9) scale(1,1.07)" font-size="18" text-anchor="start" class="a">2</text>
<line x1="631.2" y1="2198.6" x2="631.2" y2="2211.4" stroke="#000" stroke-width="2"/>
<text transform="translate(627.6,2236.7) scale(1,1.07)" font-size="24" text-anchor="end" class="a">10</text>
<text transform="translate(630.0,2229.9) scale(1,1.07)" font-size="18" text-anchor="start" class="a">3</text>
<line x1="791.2" y1="2198.6" x2="791.2" y2="2211.4" stroke="#000" stroke-width="2"/>
<text transform="translate(787.6,2236.7) scale(1,1.07)" font-size="24" text-anchor="end" class="a">10</text>
<text transform="translate(790.0,2229.9) scale(1,1.07)" font-size="18" text-anchor="start" class="a">4</text>
</g>
<text transform="translate(465.8,2261.3) scale(1,1.07)" font-size="24" text-anchor="middle" class="a">GFP Fluorescence Log</text>
<text transform="translate(100.7,1981.7) rotate(-90) scale(1,1.07)" font-size="24.4" text-anchor="middle" class="a">Counts</text>
<path d="M305.9 2040.6V1957.8H624.6V2038.7" fill="none" stroke="#000" stroke-width="1.8"/>
<text transform="translate(308.2,1988.7) scale(1,1.07)" font-size="22" text-anchor="start" class="a">R4</text>
<rect x="855.6" y="1691.1" width="764.1" height="763.3" fill="#fff"/>
<rect x="860.2" y="1691.1" width="754.9" height="1.6" fill="#d2d2d2"/>
<rect x="855.6" y="1696.2" width="2.0" height="754.5" fill="#cdcdcd"/>
<rect x="860.6" y="1695.7" width="754.5" height="755.0" fill="#c8c8c8"/>
<rect x="1615.1" y="1691.1" width="4.6" height="763.3" fill="#4a4a4a"/>
<rect x="855.6" y="2450.7" width="764.1" height="3.7" fill="#4a4a4a"/>
<rect x="1615.1" y="1695.1" width="2.2" height="755.6" fill="#8c8c8c"/>
<rect x="860.6" y="2450.7" width="756.7" height="1.7" fill="#8c8c8c"/>
<path d="M855.6 2455.6H1619.7M1620.7 1693.1V2454.4" stroke="#b4b4b4" stroke-width="1.8" stroke-dasharray="7.2 6.4" fill="none"/>
<rect x="1621.0" y="1691.0" width="17.0" height="1.8" fill="#c4c4c4"/>
<rect x="1621.0" y="1745.5" width="17.0" height="1.8" fill="#c4c4c4"/>
<rect x="1621.0" y="1800.0" width="17.0" height="1.8" fill="#c4c4c4"/>
<rect x="1621.0" y="1854.5" width="17.0" height="1.8" fill="#c4c4c4"/>
<rect x="1621.0" y="1909.0" width="17.0" height="1.8" fill="#c4c4c4"/>
<rect x="1621.0" y="1963.5" width="17.0" height="1.8" fill="#c4c4c4"/>
<rect x="1621.0" y="2018.0" width="17.0" height="1.8" fill="#c4c4c4"/>
<rect x="1621.0" y="2072.5" width="17.0" height="1.8" fill="#c4c4c4"/>
<rect x="1621.0" y="2127.0" width="17.0" height="1.8" fill="#c4c4c4"/>
<rect x="1621.0" y="2181.5" width="17.0" height="1.8" fill="#c4c4c4"/>
<rect x="1621.0" y="2236.0" width="17.0" height="1.8" fill="#c4c4c4"/>
<rect x="1621.0" y="2290.5" width="17.0" height="1.8" fill="#c4c4c4"/>
<rect x="1621.0" y="2345.0" width="17.0" height="1.8" fill="#c4c4c4"/>
<rect x="1621.0" y="2399.5" width="17.0" height="1.8" fill="#c4c4c4"/>
<rect x="1621.0" y="2454.0" width="17.0" height="1.8" fill="#c4c4c4"/>
<rect x="865.2" y="1699.9" width="745.7" height="586.8" fill="#fff"/>
<rect x="865.2" y="1699.9" width="743.6" height="584.7" fill="#e2e2e2"/>
<rect x="865.2" y="1699.9" width="741.2" height="582.3" fill="#808080"/>
<rect x="867.2" y="1701.9" width="739.2" height="580.3" fill="#000"/>
<rect x="869.4" y="1704.2" width="737.0" height="578.0" fill="#fff"/>
<rect x="865.2" y="2294.0" width="745.7" height="152.1" fill="#fff"/>
<rect x="865.2" y="2294.0" width="743.3" height="149.7" fill="#e2e2e2"/>
<rect x="865.2" y="2294.0" width="740.7" height="147.1" fill="#808080"/>
<rect x="867.2" y="2296.0" width="738.7" height="145.1" fill="#000"/>
<rect x="869.2" y="2298.0" width="736.7" height="143.1" fill="#fff"/>
<rect x="867.2" y="2296.0" width="739.6" height="145.1" fill="#000"/>
<rect x="871.3" y="2299.9" width="733.0" height="139.0" fill="#fff"/>
<rect x="871.3" y="2299.9" width="146.8" height="36.9" fill="#787878"/>
<rect x="871.3" y="2299.9" width="144.3" height="34.1" fill="#fff"/>
<rect x="873.7" y="2302.3" width="141.9" height="31.7" fill="#c8c8c8"/>
<text x="1004.5" y="2328.6" font-size="24" text-anchor="end" class="t">Region</text>
<rect x="1018.1" y="2299.9" width="147.4" height="36.9" fill="#787878"/>
<rect x="1018.1" y="2299.9" width="144.9" height="34.1" fill="#fff"/>
<rect x="1020.5" y="2302.3" width="142.5" height="31.7" fill="#c8c8c8"/>
<text x="1151.9" y="2328.6" font-size="24" text-anchor="end" class="t">Count</text>
<rect x="1165.5" y="2299.9" width="113.4" height="36.9" fill="#787878"/>
<rect x="1165.5" y="2299.9" width="110.9" height="34.1" fill="#fff"/>
<rect x="1167.9" y="2302.3" width="108.5" height="31.7" fill="#c8c8c8"/>
<text x="1265.3" y="2328.6" font-size="24" text-anchor="end" class="t">% Hist</text>
<rect x="1278.9" y="2299.9" width="125.9" height="36.9" fill="#787878"/>
<rect x="1278.9" y="2299.9" width="123.4" height="34.1" fill="#fff"/>
<rect x="1281.3" y="2302.3" width="121.0" height="31.7" fill="#c8c8c8"/>
<text x="1391.2" y="2328.6" font-size="24" text-anchor="end" class="t">Mean</text>
<rect x="1404.8" y="2299.9" width="125.7" height="36.9" fill="#787878"/>
<rect x="1404.8" y="2299.9" width="123.2" height="34.1" fill="#fff"/>
<rect x="1407.2" y="2302.3" width="120.8" height="31.7" fill="#c8c8c8"/>
<text x="1516.9" y="2328.6" font-size="24" text-anchor="end" class="t">CV</text>
<rect x="1530.5" y="2299.9" width="73.8" height="36.9" fill="#787878"/>
<rect x="1530.5" y="2299.9" width="71.3" height="34.1" fill="#fff"/>
<rect x="1532.9" y="2302.3" width="68.9" height="31.7" fill="#c8c8c8"/>
<rect x="871.3" y="2336.8" width="733.0" height="2.0" fill="#000"/>
<text x="1012.2" y="2362.9" font-size="24" text-anchor="end" class="t">Total</text>
<text x="1159.6" y="2362.9" font-size="24" text-anchor="end" class="t">18196</text>
<text x="1273.0" y="2362.9" font-size="24" text-anchor="end" class="t">100.00</text>
<text x="1398.9" y="2362.9" font-size="24" text-anchor="end" class="t">1.07</text>
<text x="1524.6" y="2362.9" font-size="24" text-anchor="end" class="t">25.76</text>
<text x="1012.2" y="2394.9" font-size="24" text-anchor="end" class="t">R4</text>
<text x="1159.6" y="2394.9" font-size="24" text-anchor="end" class="t">0</text>
<text x="1273.0" y="2394.9" font-size="24" text-anchor="end" class="t">0.00</text>
<text x="1398.9" y="2394.9" font-size="24" text-anchor="end" class="t">0.00</text>
<text x="1524.6" y="2394.9" font-size="24" text-anchor="end" class="t">0.00</text>
<rect x="869.8" y="1704.5" width="60.2" height="37.5" fill="#808080"/>
<rect x="871.4" y="1706.1" width="57.0" height="34.3" fill="#fff"/>
<rect x="873.8" y="1708.5" width="54.6" height="31.9" fill="url(#gi)"/>
<rect x="885.3" y="1709.1" width="17.8" height="8.6" fill="#6e6e6e"/>
<rect x="885.3" y="1717.5" width="24.7" height="18.2" fill="#6e6e6e"/>
<rect x="887.3" y="1720.6" width="22.7" height="5.3" fill="#c4c4c4"/>
<rect x="892.3" y="1722.3" width="10.5" height="1.8" fill="#7a7a7a"/>
<rect x="887.3" y="1733.7" width="22.7" height="2.2" fill="#d0d0d0"/>
<rect x="910.0" y="1717.5" width="2.3" height="20.6" fill="#000"/>
<rect x="887.3" y="1735.9" width="25.0" height="2.2" fill="#000"/>
<rect x="903.1" y="1710.7" width="2.4" height="7.0" fill="#000"/>
<rect x="935.3" y="1704.5" width="604.8" height="37.6" fill="#808080"/>
<rect x="937.0" y="1706.2" width="601.5" height="34.3" fill="#fff"/>
<text x="945.6" y="1732.9" font-size="25.5" class="tb" textLength="261" lengthAdjust="spacing" xml:space="preserve">Sample_80  (G1: R1)</text>
<rect x="1543.1" y="1705.1" width="60.6" height="37.0" fill="#808080"/>
<rect x="1543.1" y="1705.1" width="59.0" height="35.4" fill="#fff"/>
<rect x="1546.3" y="1708.3" width="55.8" height="32.2" fill="url(#gb)"/>
<path fill="#000" d="M1558.3 1710.7h5.4L1583.7 1733.7h-5.4z"/><path fill="#000" d="M1583.7 1710.7h-5.4L1558.3 1733.7h5.4z"/>
<path d="M947.4 2200.6V1762.5h2.2V1762.5h2.2V1762.5h2.2V1762.5h2.2V1762.5h2.2V1762.5h2.2V1762.5h2.2V1762.5h2.2V1762.5h2.2V1762.5h2.2V1762.5h2.2V1762.5h2.2V1762.5h2.2V1762.5h2.2V1785.9h2.2V1815.1h2.2V1847.8h2.2V1892.6h2.2V1892.4h2.2V1913.8h2.2V1946.4h2.2V1994.0h2.2V2020.4h2.2V2034.5h2.2V2046.5h2.2V2069.6h2.2V2092.7h2.2V2095.6h2.2V2101.4h2.2V2105.3h2.2V2119.2h2.2V2131.8h2.2V2132.4h2.2V2129.6h2.2V2135.2h2.2V2150.1h2.2V2170.9h2.2V2174.8h2.2V2178.1h2.2V2173.3h2.2V2168.0h2.2V2165.4h2.2V2175.4h2.2V2173.6h2.2V2167.1h2.2V2187.8h2.2V2195.4h2.2V2193.9h2.2V2191.7h2.2V2192.5h2.2V2193.9h2.2V2194.7h2.2V2196.8h2.2V2200.3h2.2V2200.6h2.2V2200.6h2.2V2198.6h2.2V2192.4h2.2V2194.7h2.2V2200.6h2.2V2200.6Z" fill="#595959"/>
<path d="M947.4 2200.6V1762.2H1587.6V2200.6Z" fill="none" stroke="#000" stroke-width="2"/>
<line x1="935.8" y1="1762.2" x2="947.4" y2="1762.2" stroke="#000" stroke-width="2"/>
<text transform="translate(929.4,1772.6) scale(1,1.07)" font-size="24" text-anchor="end" class="a">97</text>
<line x1="935.8" y1="1870.9" x2="947.4" y2="1870.9" stroke="#000" stroke-width="2"/>
<text transform="translate(929.4,1881.3) scale(1,1.07)" font-size="24" text-anchor="end" class="a">72</text>
<line x1="935.8" y1="1983.4" x2="947.4" y2="1983.4" stroke="#000" stroke-width="2"/>
<text transform="translate(929.4,1993.8) scale(1,1.07)" font-size="24" text-anchor="end" class="a">48</text>
<line x1="935.8" y1="2091.7" x2="947.4" y2="2091.7" stroke="#000" stroke-width="2"/>
<text transform="translate(929.4,2102.1) scale(1,1.07)" font-size="24" text-anchor="end" class="a">24</text>
<line x1="935.8" y1="2200.6" x2="947.4" y2="2200.6" stroke="#000" stroke-width="2"/>
<text transform="translate(929.4,2211.0) scale(1,1.07)" font-size="24" text-anchor="end" class="a">0</text>
<clipPath id="c803850"><rect x="907.4" y="2200.6" width="686.8" height="50"/></clipPath>
<g clip-path="url(#c803850)">
<line x1="947.4" y1="2200.6" x2="947.4" y2="2213.4" stroke="#000" stroke-width="2"/>
<text transform="translate(943.8,2238.7) scale(1,1.07)" font-size="24" text-anchor="end" class="a">10</text>
<text transform="translate(946.2,2231.9) scale(1,1.07)" font-size="18" text-anchor="start" class="a">0</text>
<line x1="1107.5" y1="2200.6" x2="1107.5" y2="2213.4" stroke="#000" stroke-width="2"/>
<text transform="translate(1103.9,2238.7) scale(1,1.07)" font-size="24" text-anchor="end" class="a">10</text>
<text transform="translate(1106.2,2231.9) scale(1,1.07)" font-size="18" text-anchor="start" class="a">1</text>
<line x1="1267.5" y1="2200.6" x2="1267.5" y2="2213.4" stroke="#000" stroke-width="2"/>
<text transform="translate(1263.9,2238.7) scale(1,1.07)" font-size="24" text-anchor="end" class="a">10</text>
<text transform="translate(1266.3,2231.9) scale(1,1.07)" font-size="18" text-anchor="start" class="a">2</text>
<line x1="1427.5" y1="2200.6" x2="1427.5" y2="2213.4" stroke="#000" stroke-width="2"/>
<text transform="translate(1424.0,2238.7) scale(1,1.07)" font-size="24" text-anchor="end" class="a">10</text>
<text transform="translate(1426.3,2231.9) scale(1,1.07)" font-size="18" text-anchor="start" class="a">3</text>
<line x1="1587.6" y1="2200.6" x2="1587.6" y2="2213.4" stroke="#000" stroke-width="2"/>
<text transform="translate(1584.0,2238.7) scale(1,1.07)" font-size="24" text-anchor="end" class="a">10</text>
<text transform="translate(1586.4,2231.9) scale(1,1.07)" font-size="18" text-anchor="start" class="a">4</text>
</g>
<text transform="translate(1265.0,2263.3) scale(1,1.07)" font-size="24" text-anchor="middle" class="a">GFP Fluorescence Log</text>
<text transform="translate(897.1,1983.7) rotate(-90) scale(1,1.07)" font-size="24.4" text-anchor="middle" class="a">Counts</text>
<path d="M1103.8 2042.7V1967.0H1421.5V2040.8" fill="none" stroke="#000" stroke-width="1.8"/>
<text transform="translate(1111.3,1996.8) scale(1,1.07)" font-size="22" text-anchor="start" class="a">R4</text>
<text x="858.5" y="819" font-size="40.5" text-anchor="middle" class="ci" lang="ru">а</text>
<text x="426.6" y="1660.5" font-size="40.5" text-anchor="middle" class="ci" lang="ru">б</text>
<text x="1258.2" y="1660.8" font-size="40.5" text-anchor="middle" class="ci" lang="ru">в</text>
<text x="425" y="2510.6" font-size="40.5" text-anchor="middle" class="ci" lang="ru">г</text>
<text x="1258" y="2510.8" font-size="40.5" text-anchor="middle" class="ci" lang="ru">д</text>
</svg>
</body></html>
